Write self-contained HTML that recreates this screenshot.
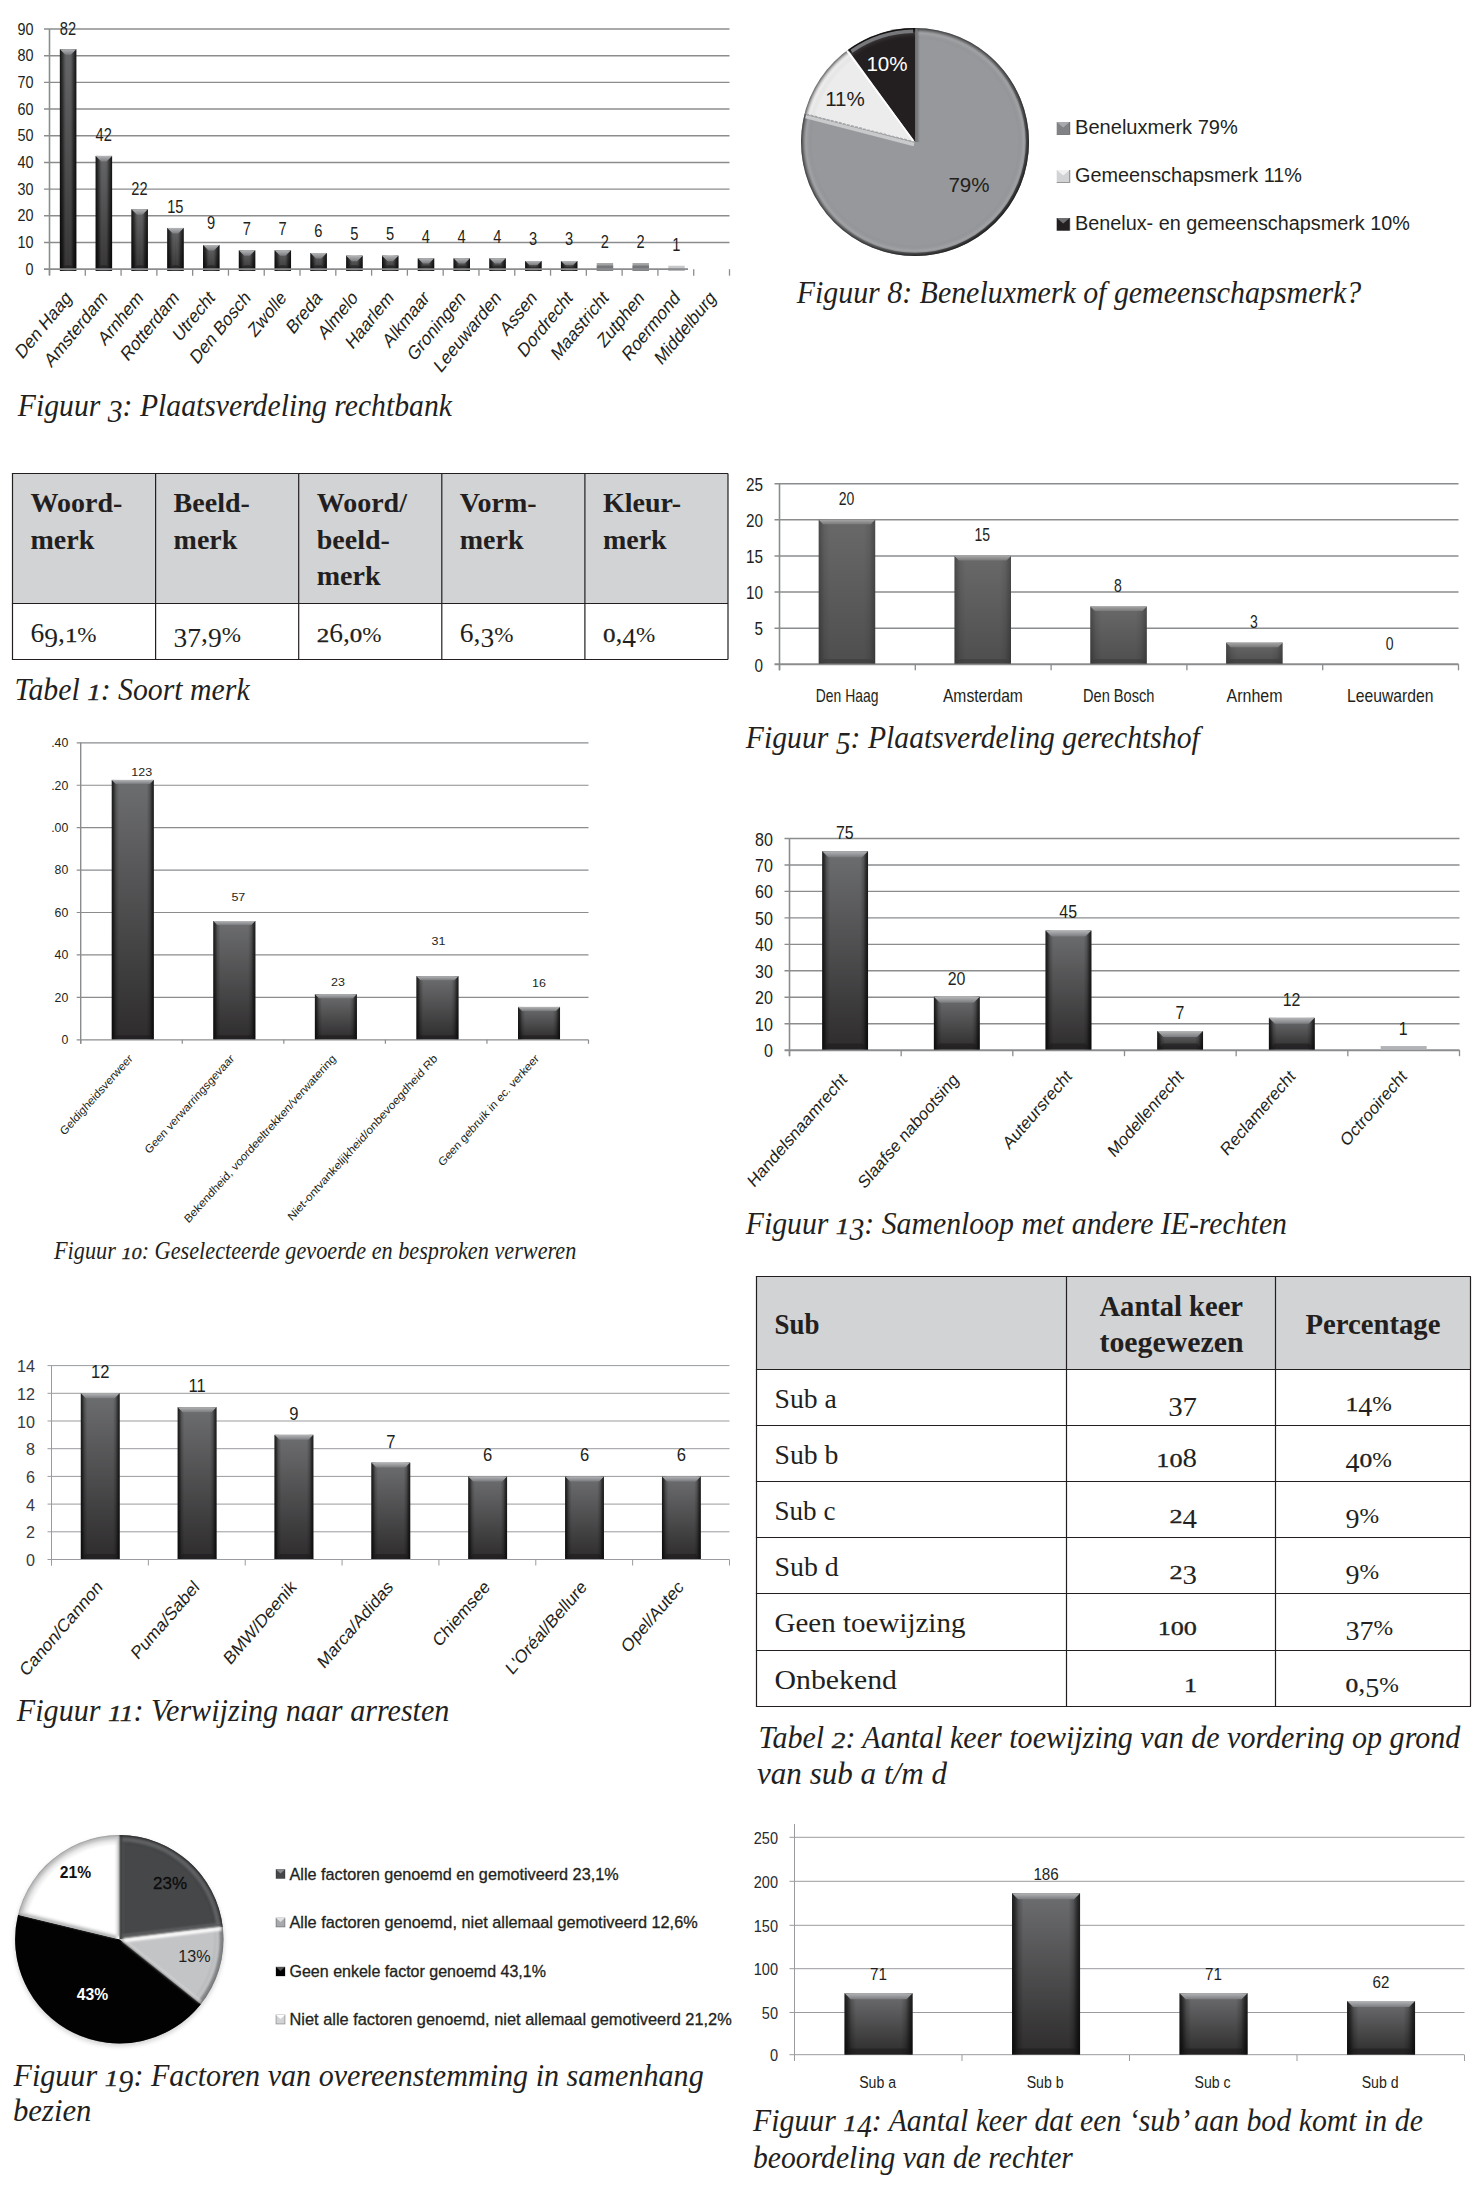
<!DOCTYPE html>
<html lang="nl"><head><meta charset="utf-8"><title>Figuren en tabellen</title>
<style>html,body{margin:0;padding:0;background:#fff}svg{display:block}text{white-space:pre}</style></head>
<body><svg width="1484" height="2204" viewBox="0 0 1484 2204">
<defs>
<linearGradient id="tbA" x1="0" y1="0" x2="0" y2="1"><stop offset="0" stop-color="#b4b6b8"/><stop offset="1" stop-color="#7b7c7f"/></linearGradient>
<linearGradient id="tbB" x1="0" y1="0" x2="0" y2="1"><stop offset="0" stop-color="#a6a6a6"/><stop offset="1" stop-color="#7a7a7a"/></linearGradient>
<linearGradient id="vgA" x1="0" y1="0" x2="0" y2="1"><stop offset="0" stop-color="#6d6e70"/><stop offset="1" stop-color="#2e2c2d"/></linearGradient>
<linearGradient id="vgB" x1="0" y1="0" x2="0" y2="1"><stop offset="0" stop-color="#696969"/><stop offset="1" stop-color="#4e4e4e"/></linearGradient>
<linearGradient id="vgC" x1="0" y1="0" x2="0" y2="1"><stop offset="0" stop-color="#5a5b5d"/><stop offset="1" stop-color="#262425"/></linearGradient>
<linearGradient id="hgA" x1="0" y1="0" x2="1" y2="0"><stop offset="0" stop-color="#000" stop-opacity=".75"/><stop offset=".04" stop-color="#000" stop-opacity=".6"/><stop offset=".1" stop-color="#000" stop-opacity=".2"/><stop offset=".17" stop-color="#000" stop-opacity="0"/><stop offset=".83" stop-color="#000" stop-opacity="0"/><stop offset=".9" stop-color="#000" stop-opacity=".2"/><stop offset=".96" stop-color="#000" stop-opacity=".6"/><stop offset="1" stop-color="#000" stop-opacity=".75"/></linearGradient>
<linearGradient id="hgB" x1="0" y1="0" x2="1" y2="0"><stop offset="0" stop-color="#000" stop-opacity=".3"/><stop offset=".1" stop-color="#000" stop-opacity=".08"/><stop offset=".2" stop-color="#000" stop-opacity="0"/><stop offset=".8" stop-color="#000" stop-opacity="0"/><stop offset=".9" stop-color="#000" stop-opacity=".08"/><stop offset="1" stop-color="#000" stop-opacity=".3"/></linearGradient>
<linearGradient id="hgC" x1="0" y1="0" x2="1" y2="0"><stop offset="0" stop-color="#000" stop-opacity=".8"/><stop offset=".2" stop-color="#000" stop-opacity=".3"/><stop offset=".5" stop-color="#fff" stop-opacity=".06"/><stop offset=".8" stop-color="#000" stop-opacity=".3"/><stop offset="1" stop-color="#000" stop-opacity=".8"/></linearGradient>

<radialGradient id="rim8" cx="915.0" cy="142.0" r="114.0" gradientUnits="userSpaceOnUse"><stop offset="0" stop-color="#000" stop-opacity="0"/><stop offset=".9" stop-color="#000" stop-opacity="0"/><stop offset=".955" stop-color="#fff" stop-opacity=".10"/><stop offset=".975" stop-color="#000" stop-opacity=".15"/><stop offset="1" stop-color="#000" stop-opacity=".6"/></radialGradient>
<linearGradient id="dir8" gradientUnits="userSpaceOnUse" x1="835.2" y1="62.2" x2="994.8" y2="221.8"><stop offset="0" stop-color="#000" stop-opacity="0"/><stop offset=".45" stop-color="#000" stop-opacity=".05"/><stop offset="1" stop-color="#000" stop-opacity=".55"/></linearGradient>
<linearGradient id="vsh8" gradientUnits="userSpaceOnUse" x1="915.0" y1="0" x2="920.0" y2="0"><stop offset="0" stop-color="#000" stop-opacity=".35"/><stop offset="1" stop-color="#000" stop-opacity="0"/></linearGradient>
<radialGradient id="rim19" cx="119.3" cy="1939.3" r="104.2" gradientUnits="userSpaceOnUse"><stop offset="0" stop-color="#000" stop-opacity="0"/><stop offset=".9" stop-color="#000" stop-opacity="0"/><stop offset=".96" stop-color="#000" stop-opacity=".12"/><stop offset="1" stop-color="#000" stop-opacity=".45"/></radialGradient>
<filter id="sh19" x="-10%" y="-10%" width="120%" height="120%"><feGaussianBlur stdDeviation="2.2"/></filter>
<filter id="blur19" x="-10%" y="-10%" width="120%" height="120%"><feGaussianBlur stdDeviation="0.9"/></filter></defs>
<rect width="1484" height="2204" fill="#fff"/>
<text transform="translate(33.50,274.80) scale(0.8670,1)" font-size="16.60" text-anchor="end" font-family="'Liberation Sans', sans-serif" fill="#231f20">0</text>
<line x1="44.00" y1="242.51" x2="729.50" y2="242.51" stroke="#8a8c8e" stroke-width="1.40"/>
<text transform="translate(33.50,248.11) scale(0.8670,1)" font-size="16.60" text-anchor="end" font-family="'Liberation Sans', sans-serif" fill="#231f20">10</text>
<line x1="44.00" y1="215.82" x2="729.50" y2="215.82" stroke="#8a8c8e" stroke-width="1.40"/>
<text transform="translate(33.50,221.42) scale(0.8670,1)" font-size="16.60" text-anchor="end" font-family="'Liberation Sans', sans-serif" fill="#231f20">20</text>
<line x1="44.00" y1="189.13" x2="729.50" y2="189.13" stroke="#8a8c8e" stroke-width="1.40"/>
<text transform="translate(33.50,194.73) scale(0.8670,1)" font-size="16.60" text-anchor="end" font-family="'Liberation Sans', sans-serif" fill="#231f20">30</text>
<line x1="44.00" y1="162.44" x2="729.50" y2="162.44" stroke="#8a8c8e" stroke-width="1.40"/>
<text transform="translate(33.50,168.04) scale(0.8670,1)" font-size="16.60" text-anchor="end" font-family="'Liberation Sans', sans-serif" fill="#231f20">40</text>
<line x1="44.00" y1="135.76" x2="729.50" y2="135.76" stroke="#8a8c8e" stroke-width="1.40"/>
<text transform="translate(33.50,141.36) scale(0.8670,1)" font-size="16.60" text-anchor="end" font-family="'Liberation Sans', sans-serif" fill="#231f20">50</text>
<line x1="44.00" y1="109.07" x2="729.50" y2="109.07" stroke="#8a8c8e" stroke-width="1.40"/>
<text transform="translate(33.50,114.67) scale(0.8670,1)" font-size="16.60" text-anchor="end" font-family="'Liberation Sans', sans-serif" fill="#231f20">60</text>
<line x1="44.00" y1="82.38" x2="729.50" y2="82.38" stroke="#8a8c8e" stroke-width="1.40"/>
<text transform="translate(33.50,87.98) scale(0.8670,1)" font-size="16.60" text-anchor="end" font-family="'Liberation Sans', sans-serif" fill="#231f20">70</text>
<line x1="44.00" y1="55.69" x2="729.50" y2="55.69" stroke="#8a8c8e" stroke-width="1.40"/>
<text transform="translate(33.50,61.29) scale(0.8670,1)" font-size="16.60" text-anchor="end" font-family="'Liberation Sans', sans-serif" fill="#231f20">80</text>
<line x1="44.00" y1="29.00" x2="729.50" y2="29.00" stroke="#8a8c8e" stroke-width="1.40"/>
<text transform="translate(33.50,34.60) scale(0.8670,1)" font-size="16.60" text-anchor="end" font-family="'Liberation Sans', sans-serif" fill="#231f20">90</text>
<line x1="49.50" y1="29.00" x2="49.50" y2="275.20" stroke="#8a8c8e" stroke-width="1.60"/>
<line x1="49.50" y1="269.20" x2="49.50" y2="275.70" stroke="#8a8c8e" stroke-width="1.30"/>
<line x1="85.29" y1="269.20" x2="85.29" y2="275.70" stroke="#8a8c8e" stroke-width="1.30"/>
<line x1="121.08" y1="269.20" x2="121.08" y2="275.70" stroke="#8a8c8e" stroke-width="1.30"/>
<line x1="156.87" y1="269.20" x2="156.87" y2="275.70" stroke="#8a8c8e" stroke-width="1.30"/>
<line x1="192.66" y1="269.20" x2="192.66" y2="275.70" stroke="#8a8c8e" stroke-width="1.30"/>
<line x1="228.45" y1="269.20" x2="228.45" y2="275.70" stroke="#8a8c8e" stroke-width="1.30"/>
<line x1="264.24" y1="269.20" x2="264.24" y2="275.70" stroke="#8a8c8e" stroke-width="1.30"/>
<line x1="300.03" y1="269.20" x2="300.03" y2="275.70" stroke="#8a8c8e" stroke-width="1.30"/>
<line x1="335.82" y1="269.20" x2="335.82" y2="275.70" stroke="#8a8c8e" stroke-width="1.30"/>
<line x1="371.61" y1="269.20" x2="371.61" y2="275.70" stroke="#8a8c8e" stroke-width="1.30"/>
<line x1="407.39" y1="269.20" x2="407.39" y2="275.70" stroke="#8a8c8e" stroke-width="1.30"/>
<line x1="443.18" y1="269.20" x2="443.18" y2="275.70" stroke="#8a8c8e" stroke-width="1.30"/>
<line x1="478.97" y1="269.20" x2="478.97" y2="275.70" stroke="#8a8c8e" stroke-width="1.30"/>
<line x1="514.76" y1="269.20" x2="514.76" y2="275.70" stroke="#8a8c8e" stroke-width="1.30"/>
<line x1="550.55" y1="269.20" x2="550.55" y2="275.70" stroke="#8a8c8e" stroke-width="1.30"/>
<line x1="586.34" y1="269.20" x2="586.34" y2="275.70" stroke="#8a8c8e" stroke-width="1.30"/>
<line x1="622.13" y1="269.20" x2="622.13" y2="275.70" stroke="#8a8c8e" stroke-width="1.30"/>
<line x1="657.92" y1="269.20" x2="657.92" y2="275.70" stroke="#8a8c8e" stroke-width="1.30"/>
<line x1="693.71" y1="269.20" x2="693.71" y2="275.70" stroke="#8a8c8e" stroke-width="1.30"/>
<line x1="729.50" y1="269.20" x2="729.50" y2="275.70" stroke="#8a8c8e" stroke-width="1.30"/>
<rect x="59.89" y="49.15" width="16.40" height="221.65" fill="url(#vgC)"/>
<rect x="59.89" y="49.15" width="16.40" height="221.65" fill="url(#hgC)"/>
<polygon points="59.89,49.15 76.29,49.15 70.79,54.65 65.39,54.65" fill="url(#tbA)"/>
<polygon points="59.89,270.80 76.29,270.80 70.79,265.30 65.39,265.30" fill="#1c1a1b" fill-opacity="0.55"/>
<text transform="translate(67.89,34.55) scale(0.7700,1)" font-size="19.00" text-anchor="middle" font-family="'Liberation Sans', sans-serif" fill="#231f20">82</text>
<text transform="translate(72.39,299.00) scale(0.820,1) rotate(-45.00) scale(0.9600,1)" font-size="20.00" text-anchor="end" font-family="'Liberation Sans', sans-serif" fill="#231f20">Den Haag</text>
<rect x="95.68" y="155.91" width="16.40" height="114.89" fill="url(#vgC)"/>
<rect x="95.68" y="155.91" width="16.40" height="114.89" fill="url(#hgC)"/>
<polygon points="95.68,155.91 112.08,155.91 106.58,161.41 101.18,161.41" fill="url(#tbA)"/>
<polygon points="95.68,270.80 112.08,270.80 106.58,265.30 101.18,265.30" fill="#1c1a1b" fill-opacity="0.55"/>
<text transform="translate(103.68,141.31) scale(0.7700,1)" font-size="19.00" text-anchor="middle" font-family="'Liberation Sans', sans-serif" fill="#231f20">42</text>
<text transform="translate(108.18,299.00) scale(0.820,1) rotate(-45.00) scale(0.9600,1)" font-size="20.00" text-anchor="end" font-family="'Liberation Sans', sans-serif" fill="#231f20">Amsterdam</text>
<rect x="131.47" y="209.28" width="16.40" height="61.52" fill="url(#vgC)"/>
<rect x="131.47" y="209.28" width="16.40" height="61.52" fill="url(#hgC)"/>
<polygon points="131.47,209.28 147.87,209.28 142.37,214.78 136.97,214.78" fill="url(#tbA)"/>
<polygon points="131.47,270.80 147.87,270.80 142.37,265.30 136.97,265.30" fill="#1c1a1b" fill-opacity="0.55"/>
<text transform="translate(139.47,194.68) scale(0.7700,1)" font-size="19.00" text-anchor="middle" font-family="'Liberation Sans', sans-serif" fill="#231f20">22</text>
<text transform="translate(143.97,299.00) scale(0.820,1) rotate(-45.00) scale(0.9600,1)" font-size="20.00" text-anchor="end" font-family="'Liberation Sans', sans-serif" fill="#231f20">Arnhem</text>
<rect x="167.26" y="227.97" width="16.40" height="42.83" fill="url(#vgC)"/>
<rect x="167.26" y="227.97" width="16.40" height="42.83" fill="url(#hgC)"/>
<polygon points="167.26,227.97 183.66,227.97 178.16,233.47 172.76,233.47" fill="url(#tbA)"/>
<polygon points="167.26,270.80 183.66,270.80 178.16,265.30 172.76,265.30" fill="#1c1a1b" fill-opacity="0.55"/>
<text transform="translate(175.26,213.37) scale(0.7700,1)" font-size="19.00" text-anchor="middle" font-family="'Liberation Sans', sans-serif" fill="#231f20">15</text>
<text transform="translate(179.76,299.00) scale(0.820,1) rotate(-45.00) scale(0.9600,1)" font-size="20.00" text-anchor="end" font-family="'Liberation Sans', sans-serif" fill="#231f20">Rotterdam</text>
<rect x="203.05" y="244.98" width="16.40" height="25.82" fill="url(#vgC)"/>
<rect x="203.05" y="244.98" width="16.40" height="25.82" fill="url(#hgC)"/>
<polygon points="203.05,244.98 219.45,244.98 213.95,250.48 208.55,250.48" fill="url(#tbA)"/>
<polygon points="203.05,270.80 219.45,270.80 213.95,265.30 208.55,265.30" fill="#1c1a1b" fill-opacity="0.55"/>
<text transform="translate(211.05,229.38) scale(0.7700,1)" font-size="19.00" text-anchor="middle" font-family="'Liberation Sans', sans-serif" fill="#231f20">9</text>
<text transform="translate(215.55,299.00) scale(0.820,1) rotate(-45.00) scale(0.9600,1)" font-size="20.00" text-anchor="end" font-family="'Liberation Sans', sans-serif" fill="#231f20">Utrecht</text>
<rect x="238.84" y="250.32" width="16.40" height="20.48" fill="url(#vgC)"/>
<rect x="238.84" y="250.32" width="16.40" height="20.48" fill="url(#hgC)"/>
<polygon points="238.84,250.32 255.24,250.32 249.74,255.82 244.34,255.82" fill="url(#tbA)"/>
<polygon points="238.84,270.80 255.24,270.80 249.74,265.30 244.34,265.30" fill="#1c1a1b" fill-opacity="0.55"/>
<text transform="translate(246.84,234.72) scale(0.7700,1)" font-size="19.00" text-anchor="middle" font-family="'Liberation Sans', sans-serif" fill="#231f20">7</text>
<text transform="translate(251.34,299.00) scale(0.820,1) rotate(-45.00) scale(0.9600,1)" font-size="20.00" text-anchor="end" font-family="'Liberation Sans', sans-serif" fill="#231f20">Den Bosch</text>
<rect x="274.63" y="250.32" width="16.40" height="20.48" fill="url(#vgC)"/>
<rect x="274.63" y="250.32" width="16.40" height="20.48" fill="url(#hgC)"/>
<polygon points="274.63,250.32 291.03,250.32 285.53,255.82 280.13,255.82" fill="url(#tbA)"/>
<polygon points="274.63,270.80 291.03,270.80 285.53,265.30 280.13,265.30" fill="#1c1a1b" fill-opacity="0.55"/>
<text transform="translate(282.63,234.72) scale(0.7700,1)" font-size="19.00" text-anchor="middle" font-family="'Liberation Sans', sans-serif" fill="#231f20">7</text>
<text transform="translate(287.13,299.00) scale(0.820,1) rotate(-45.00) scale(0.9600,1)" font-size="20.00" text-anchor="end" font-family="'Liberation Sans', sans-serif" fill="#231f20">Zwolle</text>
<rect x="310.42" y="252.99" width="16.40" height="17.81" fill="url(#vgC)"/>
<rect x="310.42" y="252.99" width="16.40" height="17.81" fill="url(#hgC)"/>
<polygon points="310.42,252.99 326.82,252.99 321.32,258.49 315.92,258.49" fill="url(#tbA)"/>
<polygon points="310.42,270.80 326.82,270.80 321.32,265.30 315.92,265.30" fill="#1c1a1b" fill-opacity="0.55"/>
<text transform="translate(318.42,237.39) scale(0.7700,1)" font-size="19.00" text-anchor="middle" font-family="'Liberation Sans', sans-serif" fill="#231f20">6</text>
<text transform="translate(322.92,299.00) scale(0.820,1) rotate(-45.00) scale(0.9600,1)" font-size="20.00" text-anchor="end" font-family="'Liberation Sans', sans-serif" fill="#231f20">Breda</text>
<rect x="346.21" y="255.66" width="16.40" height="15.14" fill="url(#vgC)"/>
<rect x="346.21" y="255.66" width="16.40" height="15.14" fill="url(#hgC)"/>
<polygon points="346.21,255.66 362.61,255.66 357.11,261.16 351.71,261.16" fill="url(#tbA)"/>
<polygon points="346.21,270.80 362.61,270.80 357.11,265.30 351.71,265.30" fill="#1c1a1b" fill-opacity="0.55"/>
<text transform="translate(354.21,240.06) scale(0.7700,1)" font-size="19.00" text-anchor="middle" font-family="'Liberation Sans', sans-serif" fill="#231f20">5</text>
<text transform="translate(358.71,299.00) scale(0.820,1) rotate(-45.00) scale(0.9600,1)" font-size="20.00" text-anchor="end" font-family="'Liberation Sans', sans-serif" fill="#231f20">Almelo</text>
<rect x="382.00" y="255.66" width="16.40" height="15.14" fill="url(#vgC)"/>
<rect x="382.00" y="255.66" width="16.40" height="15.14" fill="url(#hgC)"/>
<polygon points="382.00,255.66 398.40,255.66 392.90,261.16 387.50,261.16" fill="url(#tbA)"/>
<polygon points="382.00,270.80 398.40,270.80 392.90,265.30 387.50,265.30" fill="#1c1a1b" fill-opacity="0.55"/>
<text transform="translate(390.00,240.06) scale(0.7700,1)" font-size="19.00" text-anchor="middle" font-family="'Liberation Sans', sans-serif" fill="#231f20">5</text>
<text transform="translate(394.50,299.00) scale(0.820,1) rotate(-45.00) scale(0.9600,1)" font-size="20.00" text-anchor="end" font-family="'Liberation Sans', sans-serif" fill="#231f20">Haarlem</text>
<rect x="417.79" y="258.32" width="16.40" height="12.48" fill="url(#vgC)"/>
<rect x="417.79" y="258.32" width="16.40" height="12.48" fill="url(#hgC)"/>
<polygon points="417.79,258.32 434.19,258.32 428.95,263.56 423.03,263.56" fill="url(#tbA)"/>
<polygon points="417.79,270.80 434.19,270.80 428.95,265.56 423.03,265.56" fill="#1c1a1b" fill-opacity="0.55"/>
<text transform="translate(425.79,242.72) scale(0.7700,1)" font-size="19.00" text-anchor="middle" font-family="'Liberation Sans', sans-serif" fill="#231f20">4</text>
<text transform="translate(430.29,299.00) scale(0.820,1) rotate(-45.00) scale(0.9600,1)" font-size="20.00" text-anchor="end" font-family="'Liberation Sans', sans-serif" fill="#231f20">Alkmaar</text>
<rect x="453.58" y="258.32" width="16.40" height="12.48" fill="url(#vgC)"/>
<rect x="453.58" y="258.32" width="16.40" height="12.48" fill="url(#hgC)"/>
<polygon points="453.58,258.32 469.98,258.32 464.74,263.56 458.82,263.56" fill="url(#tbA)"/>
<polygon points="453.58,270.80 469.98,270.80 464.74,265.56 458.82,265.56" fill="#1c1a1b" fill-opacity="0.55"/>
<text transform="translate(461.58,242.72) scale(0.7700,1)" font-size="19.00" text-anchor="middle" font-family="'Liberation Sans', sans-serif" fill="#231f20">4</text>
<text transform="translate(466.08,299.00) scale(0.820,1) rotate(-45.00) scale(0.9600,1)" font-size="20.00" text-anchor="end" font-family="'Liberation Sans', sans-serif" fill="#231f20">Groningen</text>
<rect x="489.37" y="258.32" width="16.40" height="12.48" fill="url(#vgC)"/>
<rect x="489.37" y="258.32" width="16.40" height="12.48" fill="url(#hgC)"/>
<polygon points="489.37,258.32 505.77,258.32 500.53,263.56 494.61,263.56" fill="url(#tbA)"/>
<polygon points="489.37,270.80 505.77,270.80 500.53,265.56 494.61,265.56" fill="#1c1a1b" fill-opacity="0.55"/>
<text transform="translate(497.37,242.72) scale(0.7700,1)" font-size="19.00" text-anchor="middle" font-family="'Liberation Sans', sans-serif" fill="#231f20">4</text>
<text transform="translate(501.87,299.00) scale(0.820,1) rotate(-45.00) scale(0.9600,1)" font-size="20.00" text-anchor="end" font-family="'Liberation Sans', sans-serif" fill="#231f20">Leeuwarden</text>
<rect x="525.16" y="260.99" width="16.40" height="9.81" fill="url(#vgC)"/>
<rect x="525.16" y="260.99" width="16.40" height="9.81" fill="url(#hgC)"/>
<polygon points="525.16,260.99 541.56,260.99 537.44,265.11 529.28,265.11" fill="url(#tbA)"/>
<polygon points="525.16,270.80 541.56,270.80 537.44,266.68 529.28,266.68" fill="#1c1a1b" fill-opacity="0.55"/>
<text transform="translate(533.16,245.39) scale(0.7700,1)" font-size="19.00" text-anchor="middle" font-family="'Liberation Sans', sans-serif" fill="#231f20">3</text>
<text transform="translate(537.66,299.00) scale(0.820,1) rotate(-45.00) scale(0.9600,1)" font-size="20.00" text-anchor="end" font-family="'Liberation Sans', sans-serif" fill="#231f20">Assen</text>
<rect x="560.95" y="260.99" width="16.40" height="9.81" fill="url(#vgC)"/>
<rect x="560.95" y="260.99" width="16.40" height="9.81" fill="url(#hgC)"/>
<polygon points="560.95,260.99 577.35,260.99 573.23,265.11 565.07,265.11" fill="url(#tbA)"/>
<polygon points="560.95,270.80 577.35,270.80 573.23,266.68 565.07,266.68" fill="#1c1a1b" fill-opacity="0.55"/>
<text transform="translate(568.95,245.39) scale(0.7700,1)" font-size="19.00" text-anchor="middle" font-family="'Liberation Sans', sans-serif" fill="#231f20">3</text>
<text transform="translate(573.45,299.00) scale(0.820,1) rotate(-45.00) scale(0.9600,1)" font-size="20.00" text-anchor="end" font-family="'Liberation Sans', sans-serif" fill="#231f20">Dordrecht</text>
<rect x="596.74" y="263.06" width="16.40" height="7.74" fill="#a1a3a5"/>
<rect x="596.74" y="265.46" width="16.40" height="5.34" fill="#77787b"/>
<text transform="translate(604.74,248.06) scale(0.7700,1)" font-size="19.00" text-anchor="middle" font-family="'Liberation Sans', sans-serif" fill="#231f20">2</text>
<text transform="translate(609.24,299.00) scale(0.820,1) rotate(-45.00) scale(0.9600,1)" font-size="20.00" text-anchor="end" font-family="'Liberation Sans', sans-serif" fill="#231f20">Maastricht</text>
<rect x="632.53" y="263.06" width="16.40" height="7.74" fill="#a1a3a5"/>
<rect x="632.53" y="265.46" width="16.40" height="5.34" fill="#77787b"/>
<text transform="translate(640.53,248.06) scale(0.7700,1)" font-size="19.00" text-anchor="middle" font-family="'Liberation Sans', sans-serif" fill="#231f20">2</text>
<text transform="translate(645.03,299.00) scale(0.820,1) rotate(-45.00) scale(0.9600,1)" font-size="20.00" text-anchor="end" font-family="'Liberation Sans', sans-serif" fill="#231f20">Zutphen</text>
<rect x="668.32" y="265.73" width="16.40" height="5.07" fill="#c7c8ca"/>
<rect x="668.32" y="268.13" width="16.40" height="2.67" fill="#b1b3b6"/>
<text transform="translate(676.32,250.73) scale(0.7700,1)" font-size="19.00" text-anchor="middle" font-family="'Liberation Sans', sans-serif" fill="#231f20">1</text>
<text transform="translate(680.82,299.00) scale(0.820,1) rotate(-45.00) scale(0.9600,1)" font-size="20.00" text-anchor="end" font-family="'Liberation Sans', sans-serif" fill="#231f20">Roermond</text>
<text transform="translate(716.61,299.00) scale(0.820,1) rotate(-45.00) scale(0.9600,1)" font-size="20.00" text-anchor="end" font-family="'Liberation Sans', sans-serif" fill="#231f20">Middelburg</text>
<line x1="44.00" y1="269.20" x2="688.00" y2="269.20" stroke="#8a8c8e" stroke-width="1.70"/>
<g transform="translate(17.80,415.60) scale(0.9140,1)" font-family="'Liberation Serif', serif" font-style="italic" fill="#231f20"><text transform="translate(0.00,0.00)" font-size="32.50">Figuur </text><text transform="translate(98.40,6.17)" font-size="32.50">3</text><text transform="translate(114.65,0.00)" font-size="32.50">: Plaatsverdeling rechtbank</text></g>
<path d="M915.00,142.00 L915.00,28.00 A114.00,114.00 0 1 1 804.58,113.65 Z" fill="#97989b"/>
<path d="M915.00,142.00 L804.58,113.65 A114.00,114.00 0 0 1 847.99,49.77 Z" fill="#ececed"/>
<path d="M915.00,142.00 L847.99,49.77 A114.00,114.00 0 0 1 915.00,28.00 Z" fill="#231f20"/>
<circle cx="915.0" cy="142.0" r="114.0" fill="url(#rim8)"/>
<circle cx="915.0" cy="142.0" r="112.4" fill="none" stroke="url(#dir8)" stroke-width="3.2"/>
<rect x="915.0" y="29.0" width="5" height="113.0" fill="url(#vsh8)"/>
<path d="M851.45,51.24 A110.80,110.80 0 0 1 913.07,31.22" fill="none" stroke="#77787b" stroke-width="3.4"/>
<line x1="914.00" y1="144.50" x2="805.58" y2="116.65" stroke="#c9cacc" stroke-width="3.5"/>
<line x1="915.00" y1="142.00" x2="804.58" y2="113.65" stroke="#a4a5a7" stroke-width="1.2" stroke-dasharray="3,1.2"/>
<line x1="916.50" y1="142.00" x2="916.50" y2="29.00" stroke="#77787b" stroke-width="2"/>
<line x1="913.50" y1="141.00" x2="846.99" y2="50.77" stroke="#fff" stroke-width="1.6"/>
<text transform="translate(969.00,191.50) scale(0.9800,1)" font-size="21.00" text-anchor="middle" font-family="'Liberation Sans', sans-serif" fill="#231f20">79%</text>
<text transform="translate(845.00,106.00) scale(0.9800,1)" font-size="21.00" text-anchor="middle" font-family="'Liberation Sans', sans-serif" fill="#231f20">11%</text>
<text transform="translate(887.00,71.00) scale(0.9800,1)" font-size="21.00" text-anchor="middle" font-family="'Liberation Sans', sans-serif" fill="#fff">10%</text>
<rect x="1056.70" y="122.00" width="13.00" height="12.50" fill="#808285"/>
<polygon points="1056.7,122.0 1069.7,122.0 1063.2,127.5" fill="#a7a9ac"/>
<path d="M1056.7,134.5 h13 v-12.5" fill="none" stroke="#000" stroke-opacity=".35" stroke-width="1.2"/>
<text transform="translate(1075.00,133.50) scale(1.0300,1)" font-size="19.50" text-anchor="start" font-family="'Liberation Sans', sans-serif" fill="#231f20">Beneluxmerk 79%</text>
<rect x="1056.70" y="170.00" width="13.00" height="12.50" fill="#d1d3d4"/>
<polygon points="1056.7,170.0 1069.7,170.0 1063.2,175.5" fill="#f1f1f2"/>
<path d="M1056.7,182.5 h13 v-12.5" fill="none" stroke="#000" stroke-opacity=".35" stroke-width="1.2"/>
<text transform="translate(1075.00,181.50) scale(1.0184,1)" font-size="19.50" text-anchor="start" font-family="'Liberation Sans', sans-serif" fill="#231f20">Gemeenschapsmerk 11%</text>
<rect x="1056.70" y="218.00" width="13.00" height="12.50" fill="#231f20"/>
<polygon points="1056.7,218.0 1069.7,218.0 1063.2,223.5" fill="#6d6e70"/>
<path d="M1056.7,230.5 h13 v-12.5" fill="none" stroke="#000" stroke-opacity=".35" stroke-width="1.2"/>
<text transform="translate(1075.00,229.50) scale(1.0166,1)" font-size="19.50" text-anchor="start" font-family="'Liberation Sans', sans-serif" fill="#231f20">Benelux- en gemeenschapsmerk 10%</text>
<g transform="translate(796.70,303.40) scale(0.9205,1)" font-family="'Liberation Serif', serif" font-style="italic" fill="#231f20"><text transform="translate(0.00,0.00)" font-size="32.50">Figuur 8: Beneluxmerk of gemeenschapsmerk?</text></g>
<rect x="12.50" y="473.50" width="715.50" height="130.00" fill="#d1d3d4"/>
<line x1="12.50" y1="473.50" x2="12.50" y2="659.50" stroke="#231f20" stroke-width="1.20"/>
<line x1="155.60" y1="473.50" x2="155.60" y2="659.50" stroke="#231f20" stroke-width="1.20"/>
<line x1="298.70" y1="473.50" x2="298.70" y2="659.50" stroke="#231f20" stroke-width="1.20"/>
<line x1="441.80" y1="473.50" x2="441.80" y2="659.50" stroke="#231f20" stroke-width="1.20"/>
<line x1="584.90" y1="473.50" x2="584.90" y2="659.50" stroke="#231f20" stroke-width="1.20"/>
<line x1="728.00" y1="473.50" x2="728.00" y2="659.50" stroke="#231f20" stroke-width="1.20"/>
<line x1="11.90" y1="473.50" x2="728.00" y2="473.50" stroke="#231f20" stroke-width="1.20"/>
<line x1="11.90" y1="603.50" x2="728.00" y2="603.50" stroke="#231f20" stroke-width="1.20"/>
<line x1="11.90" y1="659.50" x2="728.00" y2="659.50" stroke="#231f20" stroke-width="1.20"/>
<text transform="translate(30.50,512.00) scale(0.9900,1)" font-size="28.30" text-anchor="start" font-family="'Liberation Serif', serif" font-weight="bold" fill="#231f20">Woord-</text>
<text transform="translate(30.50,548.50) scale(0.9900,1)" font-size="28.30" text-anchor="start" font-family="'Liberation Serif', serif" font-weight="bold" fill="#231f20">merk</text>
<g transform="translate(30.50,641.50) scale(1.0000,1)" font-family="'Liberation Serif', serif" fill="#231f20"><text transform="translate(0.00,0.00)" font-size="27.50">6</text><text transform="translate(13.75,5.22)" font-size="27.50">9</text><text transform="translate(27.50,0.00)" font-size="27.50">,</text><text transform="translate(34.38,0.00) scale(1.280,1)" font-size="19.52" stroke="#231f20" stroke-width="0.33">1</text><text transform="translate(46.87,0.00) scale(1.050,1)" font-size="22.00">%</text></g>
<text transform="translate(173.60,512.00) scale(0.9900,1)" font-size="28.30" text-anchor="start" font-family="'Liberation Serif', serif" font-weight="bold" fill="#231f20">Beeld-</text>
<text transform="translate(173.60,548.50) scale(0.9900,1)" font-size="28.30" text-anchor="start" font-family="'Liberation Serif', serif" font-weight="bold" fill="#231f20">merk</text>
<g transform="translate(173.60,641.50) scale(1.0000,1)" font-family="'Liberation Serif', serif" fill="#231f20"><text transform="translate(0.00,5.22)" font-size="27.50">37</text><text transform="translate(27.50,0.00)" font-size="27.50">,</text><text transform="translate(34.38,5.22)" font-size="27.50">9</text><text transform="translate(48.12,0.00) scale(1.050,1)" font-size="22.00">%</text></g>
<text transform="translate(316.70,512.00) scale(0.9900,1)" font-size="28.30" text-anchor="start" font-family="'Liberation Serif', serif" font-weight="bold" fill="#231f20">Woord/</text>
<text transform="translate(316.70,548.50) scale(0.9900,1)" font-size="28.30" text-anchor="start" font-family="'Liberation Serif', serif" font-weight="bold" fill="#231f20">beeld-</text>
<text transform="translate(316.70,585.00) scale(0.9900,1)" font-size="28.30" text-anchor="start" font-family="'Liberation Serif', serif" font-weight="bold" fill="#231f20">merk</text>
<g transform="translate(316.70,641.50) scale(1.0000,1)" font-family="'Liberation Serif', serif" fill="#231f20"><text transform="translate(0.00,0.00) scale(1.280,1)" font-size="19.52" stroke="#231f20" stroke-width="0.33">2</text><text transform="translate(12.50,0.00)" font-size="27.50">6,</text><text transform="translate(33.12,0.00) scale(1.280,1)" font-size="19.52" stroke="#231f20" stroke-width="0.33">0</text><text transform="translate(45.62,0.00) scale(1.050,1)" font-size="22.00">%</text></g>
<text transform="translate(459.80,512.00) scale(0.9900,1)" font-size="28.30" text-anchor="start" font-family="'Liberation Serif', serif" font-weight="bold" fill="#231f20">Vorm-</text>
<text transform="translate(459.80,548.50) scale(0.9900,1)" font-size="28.30" text-anchor="start" font-family="'Liberation Serif', serif" font-weight="bold" fill="#231f20">merk</text>
<g transform="translate(459.80,641.50) scale(1.0000,1)" font-family="'Liberation Serif', serif" fill="#231f20"><text transform="translate(0.00,0.00)" font-size="27.50">6,</text><text transform="translate(20.62,5.22)" font-size="27.50">3</text><text transform="translate(34.38,0.00) scale(1.050,1)" font-size="22.00">%</text></g>
<text transform="translate(602.90,512.00) scale(0.9900,1)" font-size="28.30" text-anchor="start" font-family="'Liberation Serif', serif" font-weight="bold" fill="#231f20">Kleur-</text>
<text transform="translate(602.90,548.50) scale(0.9900,1)" font-size="28.30" text-anchor="start" font-family="'Liberation Serif', serif" font-weight="bold" fill="#231f20">merk</text>
<g transform="translate(602.90,641.50) scale(1.0000,1)" font-family="'Liberation Serif', serif" fill="#231f20"><text transform="translate(0.00,0.00) scale(1.280,1)" font-size="19.52" stroke="#231f20" stroke-width="0.33">0</text><text transform="translate(12.50,0.00)" font-size="27.50">,</text><text transform="translate(19.37,5.22)" font-size="27.50">4</text><text transform="translate(33.12,0.00) scale(1.050,1)" font-size="22.00">%</text></g>
<g transform="translate(14.60,699.80) scale(0.9169,1)" font-family="'Liberation Serif', serif" font-style="italic" fill="#231f20"><text transform="translate(0.00,0.00)" font-size="32.50">Tabel </text><text transform="translate(79.17,0.00) scale(1.280,1)" font-size="23.07" stroke="#231f20" stroke-width="0.39">1</text><text transform="translate(93.94,0.00)" font-size="32.50">: Soort merk</text></g>
<line x1="774.50" y1="664.30" x2="1458.50" y2="664.30" stroke="#8a8c8e" stroke-width="1.90"/>
<text transform="translate(763.00,671.50) scale(0.8500,1)" font-size="18.00" text-anchor="end" font-family="'Liberation Sans', sans-serif" fill="#231f20">0</text>
<line x1="774.50" y1="628.18" x2="1458.50" y2="628.18" stroke="#8a8c8e" stroke-width="1.40"/>
<text transform="translate(763.00,635.38) scale(0.8500,1)" font-size="18.00" text-anchor="end" font-family="'Liberation Sans', sans-serif" fill="#231f20">5</text>
<line x1="774.50" y1="592.06" x2="1458.50" y2="592.06" stroke="#8a8c8e" stroke-width="1.40"/>
<text transform="translate(763.00,599.26) scale(0.8500,1)" font-size="18.00" text-anchor="end" font-family="'Liberation Sans', sans-serif" fill="#231f20">10</text>
<line x1="774.50" y1="555.94" x2="1458.50" y2="555.94" stroke="#8a8c8e" stroke-width="1.40"/>
<text transform="translate(763.00,563.14) scale(0.8500,1)" font-size="18.00" text-anchor="end" font-family="'Liberation Sans', sans-serif" fill="#231f20">15</text>
<line x1="774.50" y1="519.82" x2="1458.50" y2="519.82" stroke="#8a8c8e" stroke-width="1.40"/>
<text transform="translate(763.00,527.02) scale(0.8500,1)" font-size="18.00" text-anchor="end" font-family="'Liberation Sans', sans-serif" fill="#231f20">20</text>
<line x1="774.50" y1="483.70" x2="1458.50" y2="483.70" stroke="#8a8c8e" stroke-width="1.40"/>
<text transform="translate(763.00,490.90) scale(0.8500,1)" font-size="18.00" text-anchor="end" font-family="'Liberation Sans', sans-serif" fill="#231f20">25</text>
<line x1="779.50" y1="483.70" x2="779.50" y2="670.30" stroke="#8a8c8e" stroke-width="1.60"/>
<line x1="779.50" y1="664.30" x2="779.50" y2="670.30" stroke="#8a8c8e" stroke-width="1.30"/>
<line x1="915.30" y1="664.30" x2="915.30" y2="670.30" stroke="#8a8c8e" stroke-width="1.30"/>
<line x1="1051.10" y1="664.30" x2="1051.10" y2="670.30" stroke="#8a8c8e" stroke-width="1.30"/>
<line x1="1186.90" y1="664.30" x2="1186.90" y2="670.30" stroke="#8a8c8e" stroke-width="1.30"/>
<line x1="1322.70" y1="664.30" x2="1322.70" y2="670.30" stroke="#8a8c8e" stroke-width="1.30"/>
<line x1="1458.50" y1="664.30" x2="1458.50" y2="670.30" stroke="#8a8c8e" stroke-width="1.30"/>
<rect x="818.70" y="519.82" width="56.50" height="143.78" fill="url(#vgB)"/>
<rect x="818.70" y="519.82" width="56.50" height="143.78" fill="url(#hgB)"/>
<polygon points="818.70,519.82 875.20,519.82 870.70,524.32 823.20,524.32" fill="url(#tbB)"/>
<polygon points="818.70,663.60 875.20,663.60 870.70,659.10 823.20,659.10" fill="#3c3c3c" fill-opacity="0.60"/>
<text transform="translate(846.40,505.32) scale(0.8000,1)" font-size="17.50" text-anchor="middle" font-family="'Liberation Sans', sans-serif" fill="#231f20">20</text>
<text transform="translate(847.10,702.00) scale(0.7723,1)" font-size="18.00" text-anchor="middle" font-family="'Liberation Sans', sans-serif" fill="#231f20">Den Haag</text>
<rect x="954.50" y="555.94" width="56.50" height="107.66" fill="url(#vgB)"/>
<rect x="954.50" y="555.94" width="56.50" height="107.66" fill="url(#hgB)"/>
<polygon points="954.50,555.94 1011.00,555.94 1006.50,560.44 959.00,560.44" fill="url(#tbB)"/>
<polygon points="954.50,663.60 1011.00,663.60 1006.50,659.10 959.00,659.10" fill="#3c3c3c" fill-opacity="0.60"/>
<text transform="translate(982.20,541.44) scale(0.8000,1)" font-size="17.50" text-anchor="middle" font-family="'Liberation Sans', sans-serif" fill="#231f20">15</text>
<text transform="translate(982.90,702.00) scale(0.8694,1)" font-size="18.00" text-anchor="middle" font-family="'Liberation Sans', sans-serif" fill="#231f20">Amsterdam</text>
<rect x="1090.30" y="606.51" width="56.50" height="57.09" fill="url(#vgB)"/>
<rect x="1090.30" y="606.51" width="56.50" height="57.09" fill="url(#hgB)"/>
<polygon points="1090.30,606.51 1146.80,606.51 1142.30,611.01 1094.80,611.01" fill="url(#tbB)"/>
<polygon points="1090.30,663.60 1146.80,663.60 1142.30,659.10 1094.80,659.10" fill="#3c3c3c" fill-opacity="0.60"/>
<text transform="translate(1118.00,592.01) scale(0.8000,1)" font-size="17.50" text-anchor="middle" font-family="'Liberation Sans', sans-serif" fill="#231f20">8</text>
<text transform="translate(1118.70,702.00) scale(0.8120,1)" font-size="18.00" text-anchor="middle" font-family="'Liberation Sans', sans-serif" fill="#231f20">Den Bosch</text>
<rect x="1226.10" y="642.63" width="56.50" height="20.97" fill="url(#vgB)"/>
<rect x="1226.10" y="642.63" width="56.50" height="20.97" fill="url(#hgB)"/>
<polygon points="1226.10,642.63 1282.60,642.63 1278.10,647.13 1230.60,647.13" fill="url(#tbB)"/>
<polygon points="1226.10,663.60 1282.60,663.60 1278.10,659.10 1230.60,659.10" fill="#3c3c3c" fill-opacity="0.60"/>
<text transform="translate(1253.80,628.13) scale(0.8000,1)" font-size="17.50" text-anchor="middle" font-family="'Liberation Sans', sans-serif" fill="#231f20">3</text>
<text transform="translate(1254.50,702.00) scale(0.8885,1)" font-size="18.00" text-anchor="middle" font-family="'Liberation Sans', sans-serif" fill="#231f20">Arnhem</text>
<text transform="translate(1389.60,649.80) scale(0.8000,1)" font-size="17.50" text-anchor="middle" font-family="'Liberation Sans', sans-serif" fill="#231f20">0</text>
<text transform="translate(1390.30,702.00) scale(0.8730,1)" font-size="18.00" text-anchor="middle" font-family="'Liberation Sans', sans-serif" fill="#231f20">Leeuwarden</text>
<g transform="translate(745.80,748.20) scale(0.9142,1)" font-family="'Liberation Serif', serif" font-style="italic" fill="#231f20"><text transform="translate(0.00,0.00)" font-size="32.50">Figuur </text><text transform="translate(98.40,6.17)" font-size="32.50">5</text><text transform="translate(114.65,0.00)" font-size="32.50">: Plaatsverdeling gerechtshof</text></g>
<line x1="76.70" y1="1039.80" x2="588.50" y2="1039.80" stroke="#8a8c8e" stroke-width="1.20"/>
<text transform="translate(68.30,1044.20)" font-size="12.30" text-anchor="end" font-family="'Liberation Sans', sans-serif" fill="#231f20">0</text>
<line x1="76.70" y1="997.37" x2="588.50" y2="997.37" stroke="#8a8c8e" stroke-width="1.20"/>
<text transform="translate(68.30,1001.77)" font-size="12.30" text-anchor="end" font-family="'Liberation Sans', sans-serif" fill="#231f20">20</text>
<line x1="76.70" y1="954.94" x2="588.50" y2="954.94" stroke="#8a8c8e" stroke-width="1.20"/>
<text transform="translate(68.30,959.34)" font-size="12.30" text-anchor="end" font-family="'Liberation Sans', sans-serif" fill="#231f20">40</text>
<line x1="76.70" y1="912.51" x2="588.50" y2="912.51" stroke="#8a8c8e" stroke-width="1.20"/>
<text transform="translate(68.30,916.91)" font-size="12.30" text-anchor="end" font-family="'Liberation Sans', sans-serif" fill="#231f20">60</text>
<line x1="76.70" y1="870.09" x2="588.50" y2="870.09" stroke="#8a8c8e" stroke-width="1.20"/>
<text transform="translate(68.30,874.49)" font-size="12.30" text-anchor="end" font-family="'Liberation Sans', sans-serif" fill="#231f20">80</text>
<line x1="76.70" y1="827.66" x2="588.50" y2="827.66" stroke="#8a8c8e" stroke-width="1.20"/>
<text transform="translate(68.30,832.06)" font-size="12.30" text-anchor="end" font-family="'Liberation Sans', sans-serif" fill="#231f20">.00</text>
<line x1="76.70" y1="785.23" x2="588.50" y2="785.23" stroke="#8a8c8e" stroke-width="1.20"/>
<text transform="translate(68.30,789.63)" font-size="12.30" text-anchor="end" font-family="'Liberation Sans', sans-serif" fill="#231f20">.20</text>
<line x1="76.70" y1="742.80" x2="588.50" y2="742.80" stroke="#8a8c8e" stroke-width="1.20"/>
<text transform="translate(68.30,747.20)" font-size="12.30" text-anchor="end" font-family="'Liberation Sans', sans-serif" fill="#231f20">.40</text>
<line x1="80.70" y1="742.80" x2="80.70" y2="1043.80" stroke="#8a8c8e" stroke-width="1.40"/>
<line x1="80.70" y1="1039.80" x2="80.70" y2="1043.80" stroke="#8a8c8e" stroke-width="1.20"/>
<line x1="182.26" y1="1039.80" x2="182.26" y2="1043.80" stroke="#8a8c8e" stroke-width="1.20"/>
<line x1="283.82" y1="1039.80" x2="283.82" y2="1043.80" stroke="#8a8c8e" stroke-width="1.20"/>
<line x1="385.38" y1="1039.80" x2="385.38" y2="1043.80" stroke="#8a8c8e" stroke-width="1.20"/>
<line x1="486.94" y1="1039.80" x2="486.94" y2="1043.80" stroke="#8a8c8e" stroke-width="1.20"/>
<line x1="588.50" y1="1039.80" x2="588.50" y2="1043.80" stroke="#8a8c8e" stroke-width="1.20"/>
<rect x="111.78" y="779.92" width="42.00" height="259.28" fill="url(#vgA)"/>
<rect x="111.78" y="779.92" width="42.00" height="259.28" fill="url(#hgA)"/>
<polygon points="111.78,779.92 153.78,779.92 149.78,783.92 115.78,783.92" fill="url(#tbA)"/>
<polygon points="111.78,1039.20 153.78,1039.20 149.78,1035.20 115.78,1035.20" fill="#1c1a1b" fill-opacity="0.55"/>
<text transform="translate(141.78,775.80) scale(1.0600,1)" font-size="11.80" text-anchor="middle" font-family="'Liberation Sans', sans-serif" fill="#231f20">123</text>
<text transform="translate(133.28,1059.30) scale(0.900,1) rotate(-45.00) scale(1.0404,1)" font-size="11.80" text-anchor="end" font-family="'Liberation Sans', sans-serif" fill="#231f20">Geldigheidsverweer</text>
<rect x="213.34" y="921.00" width="42.00" height="118.20" fill="url(#vgA)"/>
<rect x="213.34" y="921.00" width="42.00" height="118.20" fill="url(#hgA)"/>
<polygon points="213.34,921.00 255.34,921.00 251.34,925.00 217.34,925.00" fill="url(#tbA)"/>
<polygon points="213.34,1039.20 255.34,1039.20 251.34,1035.20 217.34,1035.20" fill="#1c1a1b" fill-opacity="0.55"/>
<text transform="translate(238.34,901.00) scale(1.0600,1)" font-size="11.80" text-anchor="middle" font-family="'Liberation Sans', sans-serif" fill="#231f20">57</text>
<text transform="translate(234.84,1059.30) scale(0.900,1) rotate(-45.00) scale(1.0433,1)" font-size="11.80" text-anchor="end" font-family="'Liberation Sans', sans-serif" fill="#231f20">Geen verwarringsgevaar</text>
<rect x="314.90" y="994.19" width="42.00" height="45.01" fill="url(#vgA)"/>
<rect x="314.90" y="994.19" width="42.00" height="45.01" fill="url(#hgA)"/>
<polygon points="314.90,994.19 356.90,994.19 352.90,998.19 318.90,998.19" fill="url(#tbA)"/>
<polygon points="314.90,1039.20 356.90,1039.20 352.90,1035.20 318.90,1035.20" fill="#1c1a1b" fill-opacity="0.55"/>
<text transform="translate(337.90,986.00) scale(1.0600,1)" font-size="11.80" text-anchor="middle" font-family="'Liberation Sans', sans-serif" fill="#231f20">23</text>
<text transform="translate(336.40,1059.30) scale(0.900,1) rotate(-45.00) scale(1.0718,1)" font-size="11.80" text-anchor="end" font-family="'Liberation Sans', sans-serif" fill="#231f20">Bekendheid, voordeeltrekken/verwatering</text>
<rect x="416.46" y="976.16" width="42.00" height="63.04" fill="url(#vgA)"/>
<rect x="416.46" y="976.16" width="42.00" height="63.04" fill="url(#hgA)"/>
<polygon points="416.46,976.16 458.46,976.16 454.46,980.16 420.46,980.16" fill="url(#tbA)"/>
<polygon points="416.46,1039.20 458.46,1039.20 454.46,1035.20 420.46,1035.20" fill="#1c1a1b" fill-opacity="0.55"/>
<text transform="translate(438.46,945.00) scale(1.0600,1)" font-size="11.80" text-anchor="middle" font-family="'Liberation Sans', sans-serif" fill="#231f20">31</text>
<text transform="translate(437.96,1059.30) scale(0.900,1) rotate(-45.00) scale(1.0874,1)" font-size="11.80" text-anchor="end" font-family="'Liberation Sans', sans-serif" fill="#231f20">Niet-ontvankelijkheid/onbevoegdheid Rb</text>
<rect x="518.02" y="1006.92" width="42.00" height="32.28" fill="url(#vgA)"/>
<rect x="518.02" y="1006.92" width="42.00" height="32.28" fill="url(#hgA)"/>
<polygon points="518.02,1006.92 560.02,1006.92 556.02,1010.92 522.02,1010.92" fill="url(#tbA)"/>
<polygon points="518.02,1039.20 560.02,1039.20 556.02,1035.20 522.02,1035.20" fill="#1c1a1b" fill-opacity="0.55"/>
<text transform="translate(539.02,987.00) scale(1.0600,1)" font-size="11.80" text-anchor="middle" font-family="'Liberation Sans', sans-serif" fill="#231f20">16</text>
<text transform="translate(539.52,1059.30) scale(0.900,1) rotate(-45.00) scale(1.0521,1)" font-size="11.80" text-anchor="end" font-family="'Liberation Sans', sans-serif" fill="#231f20">Geen gebruik in ec. verkeer</text>
<g transform="translate(54.00,1259.00) scale(0.9124,1)" font-family="'Liberation Serif', serif" font-style="italic" fill="#231f20"><text transform="translate(0.00,0.00)" font-size="24.40">Figuur </text><text transform="translate(73.88,0.00) scale(1.280,1)" font-size="17.32" stroke="#231f20" stroke-width="0.29">10</text><text transform="translate(96.05,0.00)" font-size="24.40">: Geselecteerde gevoerde en besproken verweren</text></g>
<line x1="784.50" y1="1050.20" x2="1459.50" y2="1050.20" stroke="#8a8c8e" stroke-width="1.90"/>
<text transform="translate(773.00,1057.20) scale(0.9200,1)" font-size="17.50" text-anchor="end" font-family="'Liberation Sans', sans-serif" fill="#231f20">0</text>
<line x1="784.50" y1="1023.74" x2="1459.50" y2="1023.74" stroke="#8a8c8e" stroke-width="1.40"/>
<text transform="translate(773.00,1030.74) scale(0.9200,1)" font-size="17.50" text-anchor="end" font-family="'Liberation Sans', sans-serif" fill="#231f20">10</text>
<line x1="784.50" y1="997.28" x2="1459.50" y2="997.28" stroke="#8a8c8e" stroke-width="1.40"/>
<text transform="translate(773.00,1004.28) scale(0.9200,1)" font-size="17.50" text-anchor="end" font-family="'Liberation Sans', sans-serif" fill="#231f20">20</text>
<line x1="784.50" y1="970.81" x2="1459.50" y2="970.81" stroke="#8a8c8e" stroke-width="1.40"/>
<text transform="translate(773.00,977.81) scale(0.9200,1)" font-size="17.50" text-anchor="end" font-family="'Liberation Sans', sans-serif" fill="#231f20">30</text>
<line x1="784.50" y1="944.35" x2="1459.50" y2="944.35" stroke="#8a8c8e" stroke-width="1.40"/>
<text transform="translate(773.00,951.35) scale(0.9200,1)" font-size="17.50" text-anchor="end" font-family="'Liberation Sans', sans-serif" fill="#231f20">40</text>
<line x1="784.50" y1="917.89" x2="1459.50" y2="917.89" stroke="#8a8c8e" stroke-width="1.40"/>
<text transform="translate(773.00,924.89) scale(0.9200,1)" font-size="17.50" text-anchor="end" font-family="'Liberation Sans', sans-serif" fill="#231f20">50</text>
<line x1="784.50" y1="891.42" x2="1459.50" y2="891.42" stroke="#8a8c8e" stroke-width="1.40"/>
<text transform="translate(773.00,898.42) scale(0.9200,1)" font-size="17.50" text-anchor="end" font-family="'Liberation Sans', sans-serif" fill="#231f20">60</text>
<line x1="784.50" y1="864.96" x2="1459.50" y2="864.96" stroke="#8a8c8e" stroke-width="1.40"/>
<text transform="translate(773.00,871.96) scale(0.9200,1)" font-size="17.50" text-anchor="end" font-family="'Liberation Sans', sans-serif" fill="#231f20">70</text>
<line x1="784.50" y1="838.50" x2="1459.50" y2="838.50" stroke="#8a8c8e" stroke-width="1.40"/>
<text transform="translate(773.00,845.50) scale(0.9200,1)" font-size="17.50" text-anchor="end" font-family="'Liberation Sans', sans-serif" fill="#231f20">80</text>
<line x1="789.50" y1="838.50" x2="789.50" y2="1056.20" stroke="#8a8c8e" stroke-width="1.60"/>
<line x1="789.50" y1="1050.20" x2="789.50" y2="1056.20" stroke="#8a8c8e" stroke-width="1.30"/>
<line x1="901.17" y1="1050.20" x2="901.17" y2="1056.20" stroke="#8a8c8e" stroke-width="1.30"/>
<line x1="1012.83" y1="1050.20" x2="1012.83" y2="1056.20" stroke="#8a8c8e" stroke-width="1.30"/>
<line x1="1124.50" y1="1050.20" x2="1124.50" y2="1056.20" stroke="#8a8c8e" stroke-width="1.30"/>
<line x1="1236.17" y1="1050.20" x2="1236.17" y2="1056.20" stroke="#8a8c8e" stroke-width="1.30"/>
<line x1="1347.83" y1="1050.20" x2="1347.83" y2="1056.20" stroke="#8a8c8e" stroke-width="1.30"/>
<line x1="1459.50" y1="1050.20" x2="1459.50" y2="1056.20" stroke="#8a8c8e" stroke-width="1.30"/>
<rect x="822.23" y="851.13" width="45.80" height="198.37" fill="url(#vgA)"/>
<rect x="822.23" y="851.13" width="45.80" height="198.37" fill="url(#hgA)"/>
<polygon points="822.23,851.13 868.03,851.13 862.03,857.13 828.23,857.13" fill="url(#tbA)"/>
<polygon points="822.23,1049.50 868.03,1049.50 862.03,1043.50 828.23,1043.50" fill="#1c1a1b" fill-opacity="0.55"/>
<text transform="translate(844.83,839.03) scale(0.9100,1)" font-size="17.50" text-anchor="middle" font-family="'Liberation Sans', sans-serif" fill="#231f20">75</text>
<text transform="translate(847.83,1080.50) scale(0.870,1) rotate(-45.00) scale(1.0100,1)" font-size="18.00" text-anchor="end" font-family="'Liberation Sans', sans-serif" fill="#231f20">Handelsnaamrecht</text>
<rect x="933.90" y="996.68" width="45.80" height="52.82" fill="url(#vgA)"/>
<rect x="933.90" y="996.68" width="45.80" height="52.82" fill="url(#hgA)"/>
<polygon points="933.90,996.68 979.70,996.68 973.70,1002.68 939.90,1002.68" fill="url(#tbA)"/>
<polygon points="933.90,1049.50 979.70,1049.50 973.70,1043.50 939.90,1043.50" fill="#1c1a1b" fill-opacity="0.55"/>
<text transform="translate(956.50,984.58) scale(0.9100,1)" font-size="17.50" text-anchor="middle" font-family="'Liberation Sans', sans-serif" fill="#231f20">20</text>
<text transform="translate(959.50,1080.50) scale(0.870,1) rotate(-45.00) scale(1.0100,1)" font-size="18.00" text-anchor="end" font-family="'Liberation Sans', sans-serif" fill="#231f20">Slaafse nabootsing</text>
<rect x="1045.57" y="930.52" width="45.80" height="118.98" fill="url(#vgA)"/>
<rect x="1045.57" y="930.52" width="45.80" height="118.98" fill="url(#hgA)"/>
<polygon points="1045.57,930.52 1091.37,930.52 1085.37,936.52 1051.57,936.52" fill="url(#tbA)"/>
<polygon points="1045.57,1049.50 1091.37,1049.50 1085.37,1043.50 1051.57,1043.50" fill="#1c1a1b" fill-opacity="0.55"/>
<text transform="translate(1068.17,918.42) scale(0.9100,1)" font-size="17.50" text-anchor="middle" font-family="'Liberation Sans', sans-serif" fill="#231f20">45</text>
<text transform="translate(1072.67,1077.50) scale(0.870,1) rotate(-45.00) scale(1.0100,1)" font-size="18.00" text-anchor="end" font-family="'Liberation Sans', sans-serif" fill="#231f20">Auteursrecht</text>
<rect x="1157.23" y="1031.08" width="45.80" height="18.42" fill="url(#vgA)"/>
<rect x="1157.23" y="1031.08" width="45.80" height="18.42" fill="url(#hgA)"/>
<polygon points="1157.23,1031.08 1203.03,1031.08 1197.03,1037.08 1163.23,1037.08" fill="url(#tbA)"/>
<polygon points="1157.23,1049.50 1203.03,1049.50 1197.03,1043.50 1163.23,1043.50" fill="#1c1a1b" fill-opacity="0.55"/>
<text transform="translate(1179.83,1018.98) scale(0.9100,1)" font-size="17.50" text-anchor="middle" font-family="'Liberation Sans', sans-serif" fill="#231f20">7</text>
<text transform="translate(1184.33,1077.50) scale(0.870,1) rotate(-45.00) scale(1.0100,1)" font-size="18.00" text-anchor="end" font-family="'Liberation Sans', sans-serif" fill="#231f20">Modellenrecht</text>
<rect x="1268.90" y="1017.85" width="45.80" height="31.65" fill="url(#vgA)"/>
<rect x="1268.90" y="1017.85" width="45.80" height="31.65" fill="url(#hgA)"/>
<polygon points="1268.90,1017.85 1314.70,1017.85 1308.70,1023.85 1274.90,1023.85" fill="url(#tbA)"/>
<polygon points="1268.90,1049.50 1314.70,1049.50 1308.70,1043.50 1274.90,1043.50" fill="#1c1a1b" fill-opacity="0.55"/>
<text transform="translate(1291.50,1005.75) scale(0.9100,1)" font-size="17.50" text-anchor="middle" font-family="'Liberation Sans', sans-serif" fill="#231f20">12</text>
<text transform="translate(1296.00,1077.50) scale(0.870,1) rotate(-45.00) scale(1.0100,1)" font-size="18.00" text-anchor="end" font-family="'Liberation Sans', sans-serif" fill="#231f20">Reclamerecht</text>
<rect x="1380.67" y="1046.05" width="46.00" height="3.65" fill="#b1b3b6"/>
<text transform="translate(1403.17,1034.85) scale(0.9100,1)" font-size="17.50" text-anchor="middle" font-family="'Liberation Sans', sans-serif" fill="#231f20">1</text>
<text transform="translate(1407.67,1077.50) scale(0.870,1) rotate(-45.00) scale(1.0100,1)" font-size="18.00" text-anchor="end" font-family="'Liberation Sans', sans-serif" fill="#231f20">Octrooirecht</text>
<g transform="translate(745.70,1233.90) scale(0.9164,1)" font-family="'Liberation Serif', serif" font-style="italic" fill="#231f20"><text transform="translate(0.00,0.00)" font-size="32.50">Figuur </text><text transform="translate(98.40,0.00) scale(1.280,1)" font-size="23.07" stroke="#231f20" stroke-width="0.39">1</text><text transform="translate(113.17,6.17)" font-size="32.50">3</text><text transform="translate(129.42,0.00)" font-size="32.50">: Samenloop met andere IE-rechten</text></g>
<line x1="47.50" y1="1559.50" x2="729.50" y2="1559.50" stroke="#999b9e" stroke-width="1.00"/>
<text transform="translate(35.00,1566.00) scale(0.9500,1)" font-size="17.00" text-anchor="end" font-family="'Liberation Sans', sans-serif" fill="#3a3a3c">0</text>
<line x1="47.50" y1="1531.80" x2="729.50" y2="1531.80" stroke="#999b9e" stroke-width="1.00"/>
<text transform="translate(35.00,1538.30) scale(0.9500,1)" font-size="17.00" text-anchor="end" font-family="'Liberation Sans', sans-serif" fill="#3a3a3c">2</text>
<line x1="47.50" y1="1504.10" x2="729.50" y2="1504.10" stroke="#999b9e" stroke-width="1.00"/>
<text transform="translate(35.00,1510.60) scale(0.9500,1)" font-size="17.00" text-anchor="end" font-family="'Liberation Sans', sans-serif" fill="#3a3a3c">4</text>
<line x1="47.50" y1="1476.40" x2="729.50" y2="1476.40" stroke="#999b9e" stroke-width="1.00"/>
<text transform="translate(35.00,1482.90) scale(0.9500,1)" font-size="17.00" text-anchor="end" font-family="'Liberation Sans', sans-serif" fill="#3a3a3c">6</text>
<line x1="47.50" y1="1448.70" x2="729.50" y2="1448.70" stroke="#999b9e" stroke-width="1.00"/>
<text transform="translate(35.00,1455.20) scale(0.9500,1)" font-size="17.00" text-anchor="end" font-family="'Liberation Sans', sans-serif" fill="#3a3a3c">8</text>
<line x1="47.50" y1="1421.00" x2="729.50" y2="1421.00" stroke="#999b9e" stroke-width="1.00"/>
<text transform="translate(35.00,1427.50) scale(0.9500,1)" font-size="17.00" text-anchor="end" font-family="'Liberation Sans', sans-serif" fill="#3a3a3c">10</text>
<line x1="47.50" y1="1393.30" x2="729.50" y2="1393.30" stroke="#999b9e" stroke-width="1.00"/>
<text transform="translate(35.00,1399.80) scale(0.9500,1)" font-size="17.00" text-anchor="end" font-family="'Liberation Sans', sans-serif" fill="#3a3a3c">12</text>
<line x1="47.50" y1="1365.60" x2="729.50" y2="1365.60" stroke="#999b9e" stroke-width="1.00"/>
<text transform="translate(35.00,1372.10) scale(0.9500,1)" font-size="17.00" text-anchor="end" font-family="'Liberation Sans', sans-serif" fill="#3a3a3c">14</text>
<line x1="51.50" y1="1365.60" x2="51.50" y2="1565.50" stroke="#999b9e" stroke-width="1.00"/>
<line x1="51.50" y1="1559.50" x2="51.50" y2="1565.50" stroke="#999b9e" stroke-width="1.00"/>
<line x1="148.36" y1="1559.50" x2="148.36" y2="1565.50" stroke="#999b9e" stroke-width="1.00"/>
<line x1="245.21" y1="1559.50" x2="245.21" y2="1565.50" stroke="#999b9e" stroke-width="1.00"/>
<line x1="342.07" y1="1559.50" x2="342.07" y2="1565.50" stroke="#999b9e" stroke-width="1.00"/>
<line x1="438.93" y1="1559.50" x2="438.93" y2="1565.50" stroke="#999b9e" stroke-width="1.00"/>
<line x1="535.79" y1="1559.50" x2="535.79" y2="1565.50" stroke="#999b9e" stroke-width="1.00"/>
<line x1="632.64" y1="1559.50" x2="632.64" y2="1565.50" stroke="#999b9e" stroke-width="1.00"/>
<line x1="729.50" y1="1559.50" x2="729.50" y2="1565.50" stroke="#999b9e" stroke-width="1.00"/>
<rect x="80.83" y="1393.30" width="38.80" height="165.70" fill="url(#vgA)"/>
<rect x="80.83" y="1393.30" width="38.80" height="165.70" fill="url(#hgA)"/>
<polygon points="80.83,1393.30 119.63,1393.30 114.63,1398.30 85.83,1398.30" fill="url(#tbA)"/>
<polygon points="80.83,1559.00 119.63,1559.00 114.63,1554.00 85.83,1554.00" fill="#1c1a1b" fill-opacity="0.55"/>
<text transform="translate(100.23,1378.30) scale(0.9500,1)" font-size="17.50" text-anchor="middle" font-family="'Liberation Sans', sans-serif" fill="#231f20">12</text>
<text transform="translate(103.43,1588.20) scale(0.863,1) rotate(-45.00) scale(1.0164,1)" font-size="18.50" text-anchor="end" font-family="'Liberation Sans', sans-serif" fill="#231f20">Canon/Cannon</text>
<rect x="177.69" y="1407.15" width="38.80" height="151.85" fill="url(#vgA)"/>
<rect x="177.69" y="1407.15" width="38.80" height="151.85" fill="url(#hgA)"/>
<polygon points="177.69,1407.15 216.49,1407.15 211.49,1412.15 182.69,1412.15" fill="url(#tbA)"/>
<polygon points="177.69,1559.00 216.49,1559.00 211.49,1554.00 182.69,1554.00" fill="#1c1a1b" fill-opacity="0.55"/>
<text transform="translate(197.09,1392.15) scale(0.9500,1)" font-size="17.50" text-anchor="middle" font-family="'Liberation Sans', sans-serif" fill="#231f20">11</text>
<text transform="translate(200.29,1588.20) scale(0.863,1) rotate(-45.00) scale(1.0164,1)" font-size="18.50" text-anchor="end" font-family="'Liberation Sans', sans-serif" fill="#231f20">Puma/Sabel</text>
<rect x="274.54" y="1434.85" width="38.80" height="124.15" fill="url(#vgA)"/>
<rect x="274.54" y="1434.85" width="38.80" height="124.15" fill="url(#hgA)"/>
<polygon points="274.54,1434.85 313.34,1434.85 308.34,1439.85 279.54,1439.85" fill="url(#tbA)"/>
<polygon points="274.54,1559.00 313.34,1559.00 308.34,1554.00 279.54,1554.00" fill="#1c1a1b" fill-opacity="0.55"/>
<text transform="translate(293.94,1419.85) scale(0.9500,1)" font-size="17.50" text-anchor="middle" font-family="'Liberation Sans', sans-serif" fill="#231f20">9</text>
<text transform="translate(297.14,1588.20) scale(0.863,1) rotate(-45.00) scale(1.0164,1)" font-size="18.50" text-anchor="end" font-family="'Liberation Sans', sans-serif" fill="#231f20">BMW/Deenik</text>
<rect x="371.40" y="1462.55" width="38.80" height="96.45" fill="url(#vgA)"/>
<rect x="371.40" y="1462.55" width="38.80" height="96.45" fill="url(#hgA)"/>
<polygon points="371.40,1462.55 410.20,1462.55 405.20,1467.55 376.40,1467.55" fill="url(#tbA)"/>
<polygon points="371.40,1559.00 410.20,1559.00 405.20,1554.00 376.40,1554.00" fill="#1c1a1b" fill-opacity="0.55"/>
<text transform="translate(390.80,1447.55) scale(0.9500,1)" font-size="17.50" text-anchor="middle" font-family="'Liberation Sans', sans-serif" fill="#231f20">7</text>
<text transform="translate(394.00,1588.20) scale(0.863,1) rotate(-45.00) scale(1.0164,1)" font-size="18.50" text-anchor="end" font-family="'Liberation Sans', sans-serif" fill="#231f20">Marca/Adidas</text>
<rect x="468.26" y="1476.40" width="38.80" height="82.60" fill="url(#vgA)"/>
<rect x="468.26" y="1476.40" width="38.80" height="82.60" fill="url(#hgA)"/>
<polygon points="468.26,1476.40 507.06,1476.40 502.06,1481.40 473.26,1481.40" fill="url(#tbA)"/>
<polygon points="468.26,1559.00 507.06,1559.00 502.06,1554.00 473.26,1554.00" fill="#1c1a1b" fill-opacity="0.55"/>
<text transform="translate(487.66,1461.40) scale(0.9500,1)" font-size="17.50" text-anchor="middle" font-family="'Liberation Sans', sans-serif" fill="#231f20">6</text>
<text transform="translate(490.86,1588.20) scale(0.863,1) rotate(-45.00) scale(1.0164,1)" font-size="18.50" text-anchor="end" font-family="'Liberation Sans', sans-serif" fill="#231f20">Chiemsee</text>
<rect x="565.11" y="1476.40" width="38.80" height="82.60" fill="url(#vgA)"/>
<rect x="565.11" y="1476.40" width="38.80" height="82.60" fill="url(#hgA)"/>
<polygon points="565.11,1476.40 603.91,1476.40 598.91,1481.40 570.11,1481.40" fill="url(#tbA)"/>
<polygon points="565.11,1559.00 603.91,1559.00 598.91,1554.00 570.11,1554.00" fill="#1c1a1b" fill-opacity="0.55"/>
<text transform="translate(584.51,1461.40) scale(0.9500,1)" font-size="17.50" text-anchor="middle" font-family="'Liberation Sans', sans-serif" fill="#231f20">6</text>
<text transform="translate(587.71,1588.20) scale(0.863,1) rotate(-45.00) scale(1.0164,1)" font-size="18.50" text-anchor="end" font-family="'Liberation Sans', sans-serif" fill="#231f20">L'Oréal/Bellure</text>
<rect x="661.97" y="1476.40" width="38.80" height="82.60" fill="url(#vgA)"/>
<rect x="661.97" y="1476.40" width="38.80" height="82.60" fill="url(#hgA)"/>
<polygon points="661.97,1476.40 700.77,1476.40 695.77,1481.40 666.97,1481.40" fill="url(#tbA)"/>
<polygon points="661.97,1559.00 700.77,1559.00 695.77,1554.00 666.97,1554.00" fill="#1c1a1b" fill-opacity="0.55"/>
<text transform="translate(681.37,1461.40) scale(0.9500,1)" font-size="17.50" text-anchor="middle" font-family="'Liberation Sans', sans-serif" fill="#231f20">6</text>
<text transform="translate(684.57,1588.20) scale(0.863,1) rotate(-45.00) scale(1.0164,1)" font-size="18.50" text-anchor="end" font-family="'Liberation Sans', sans-serif" fill="#231f20">Opel/Autec</text>
<g transform="translate(16.80,1720.60) scale(0.9272,1)" font-family="'Liberation Serif', serif" font-style="italic" fill="#231f20"><text transform="translate(0.00,0.00)" font-size="32.50">Figuur </text><text transform="translate(98.40,0.00) scale(1.280,1)" font-size="23.07" stroke="#231f20" stroke-width="0.39">11</text><text transform="translate(125.75,0.00)" font-size="32.50">: Verwijzing naar arresten</text></g>
<rect x="756.50" y="1276.50" width="713.80" height="93.00" fill="#d1d3d4"/>
<line x1="756.50" y1="1276.50" x2="756.50" y2="1706.50" stroke="#231f20" stroke-width="1.20"/>
<line x1="1066.50" y1="1276.50" x2="1066.50" y2="1706.50" stroke="#231f20" stroke-width="1.20"/>
<line x1="1275.50" y1="1276.50" x2="1275.50" y2="1706.50" stroke="#231f20" stroke-width="1.20"/>
<line x1="1470.50" y1="1276.50" x2="1470.50" y2="1706.50" stroke="#231f20" stroke-width="1.20"/>
<line x1="755.90" y1="1276.50" x2="1470.90" y2="1276.50" stroke="#231f20" stroke-width="1.20"/>
<line x1="755.90" y1="1369.50" x2="1470.90" y2="1369.50" stroke="#231f20" stroke-width="1.20"/>
<line x1="755.90" y1="1425.50" x2="1470.90" y2="1425.50" stroke="#231f20" stroke-width="1.20"/>
<line x1="755.90" y1="1481.50" x2="1470.90" y2="1481.50" stroke="#231f20" stroke-width="1.20"/>
<line x1="755.90" y1="1537.50" x2="1470.90" y2="1537.50" stroke="#231f20" stroke-width="1.20"/>
<line x1="755.90" y1="1593.50" x2="1470.90" y2="1593.50" stroke="#231f20" stroke-width="1.20"/>
<line x1="755.90" y1="1650.50" x2="1470.90" y2="1650.50" stroke="#231f20" stroke-width="1.20"/>
<line x1="755.90" y1="1706.50" x2="1470.90" y2="1706.50" stroke="#231f20" stroke-width="1.20"/>
<text transform="translate(774.50,1334.00) scale(0.9463,1)" font-size="28.50" text-anchor="start" font-family="'Liberation Serif', serif" font-weight="bold" fill="#231f20">Sub</text>
<text transform="translate(1099.50,1316.00) scale(1.0016,1)" font-size="28.50" text-anchor="start" font-family="'Liberation Serif', serif" font-weight="bold" fill="#231f20">Aantal keer</text>
<text transform="translate(1099.50,1351.50) scale(1.0460,1)" font-size="28.50" text-anchor="start" font-family="'Liberation Serif', serif" font-weight="bold" fill="#231f20">toegewezen</text>
<text transform="translate(1305.50,1334.00) scale(1.0076,1)" font-size="28.50" text-anchor="start" font-family="'Liberation Serif', serif" font-weight="bold" fill="#231f20">Percentage</text>
<text transform="translate(774.50,1407.70) scale(0.9889,1)" font-size="28.00" text-anchor="start" font-family="'Liberation Serif', serif" fill="#231f20">Sub a</text>
<g transform="translate(1197.00,1410.50) scale(1.0500,1)" font-family="'Liberation Serif', serif" fill="#231f20"><text transform="translate(-27.50,5.22)" font-size="27.50">37</text></g>
<g transform="translate(1345.50,1410.50) scale(1.0200,1)" font-family="'Liberation Serif', serif" fill="#231f20"><text transform="translate(0.00,0.00) scale(1.280,1)" font-size="19.52" stroke="#231f20" stroke-width="0.33">1</text><text transform="translate(12.50,5.22)" font-size="27.50">4</text><text transform="translate(26.25,0.00) scale(1.050,1)" font-size="22.00">%</text></g>
<text transform="translate(774.50,1463.70) scale(0.9911,1)" font-size="28.00" text-anchor="start" font-family="'Liberation Serif', serif" fill="#231f20">Sub b</text>
<g transform="translate(1197.00,1466.50) scale(1.0500,1)" font-family="'Liberation Serif', serif" fill="#231f20"><text transform="translate(-38.74,0.00) scale(1.280,1)" font-size="19.52" stroke="#231f20" stroke-width="0.33">10</text><text transform="translate(-13.75,0.00)" font-size="27.50">8</text></g>
<g transform="translate(1345.50,1466.50) scale(1.0200,1)" font-family="'Liberation Serif', serif" fill="#231f20"><text transform="translate(0.00,5.22)" font-size="27.50">4</text><text transform="translate(13.75,0.00) scale(1.280,1)" font-size="19.52" stroke="#231f20" stroke-width="0.33">0</text><text transform="translate(26.25,0.00) scale(1.050,1)" font-size="22.00">%</text></g>
<text transform="translate(774.50,1519.70) scale(0.9683,1)" font-size="28.00" text-anchor="start" font-family="'Liberation Serif', serif" fill="#231f20">Sub c</text>
<g transform="translate(1197.00,1522.50) scale(1.0500,1)" font-family="'Liberation Serif', serif" fill="#231f20"><text transform="translate(-26.25,0.00) scale(1.280,1)" font-size="19.52" stroke="#231f20" stroke-width="0.33">2</text><text transform="translate(-13.75,5.22)" font-size="27.50">4</text></g>
<g transform="translate(1345.50,1522.50) scale(1.0200,1)" font-family="'Liberation Serif', serif" fill="#231f20"><text transform="translate(0.00,5.22)" font-size="27.50">9</text><text transform="translate(13.75,0.00) scale(1.050,1)" font-size="22.00">%</text></g>
<text transform="translate(774.50,1575.70) scale(0.9958,1)" font-size="28.00" text-anchor="start" font-family="'Liberation Serif', serif" fill="#231f20">Sub d</text>
<g transform="translate(1197.00,1578.50) scale(1.0500,1)" font-family="'Liberation Serif', serif" fill="#231f20"><text transform="translate(-26.25,0.00) scale(1.280,1)" font-size="19.52" stroke="#231f20" stroke-width="0.33">2</text><text transform="translate(-13.75,5.22)" font-size="27.50">3</text></g>
<g transform="translate(1345.50,1578.50) scale(1.0200,1)" font-family="'Liberation Serif', serif" fill="#231f20"><text transform="translate(0.00,5.22)" font-size="27.50">9</text><text transform="translate(13.75,0.00) scale(1.050,1)" font-size="22.00">%</text></g>
<text transform="translate(774.50,1631.70) scale(1.0365,1)" font-size="28.00" text-anchor="start" font-family="'Liberation Serif', serif" fill="#231f20">Geen toewijzing</text>
<g transform="translate(1197.00,1634.50) scale(1.0500,1)" font-family="'Liberation Serif', serif" fill="#231f20"><text transform="translate(-37.49,0.00) scale(1.280,1)" font-size="19.52" stroke="#231f20" stroke-width="0.33">100</text></g>
<g transform="translate(1345.50,1634.50) scale(1.0200,1)" font-family="'Liberation Serif', serif" fill="#231f20"><text transform="translate(0.00,5.22)" font-size="27.50">37</text><text transform="translate(27.50,0.00) scale(1.050,1)" font-size="22.00">%</text></g>
<text transform="translate(774.50,1688.70) scale(1.0645,1)" font-size="28.00" text-anchor="start" font-family="'Liberation Serif', serif" fill="#231f20">Onbekend</text>
<g transform="translate(1197.00,1691.50) scale(1.0500,1)" font-family="'Liberation Serif', serif" fill="#231f20"><text transform="translate(-12.50,0.00) scale(1.280,1)" font-size="19.52" stroke="#231f20" stroke-width="0.33">1</text></g>
<g transform="translate(1345.50,1691.50) scale(1.0200,1)" font-family="'Liberation Serif', serif" fill="#231f20"><text transform="translate(0.00,0.00) scale(1.280,1)" font-size="19.52" stroke="#231f20" stroke-width="0.33">0</text><text transform="translate(12.50,0.00)" font-size="27.50">,</text><text transform="translate(19.37,5.22)" font-size="27.50">5</text><text transform="translate(33.12,0.00) scale(1.050,1)" font-size="22.00">%</text></g>
<g transform="translate(758.50,1747.50) scale(0.9250,1)" font-family="'Liberation Serif', serif" font-style="italic" fill="#231f20"><text transform="translate(0.00,0.00)" font-size="32.50">Tabel </text><text transform="translate(79.17,0.00) scale(1.280,1)" font-size="23.07" stroke="#231f20" stroke-width="0.39">2</text><text transform="translate(93.94,0.00)" font-size="32.50">: Aantal keer toewijzing van de vordering op grond</text></g>
<text transform="translate(757.00,1784.00) scale(0.9567,1)" font-size="32.50" text-anchor="start" font-family="'Liberation Serif', serif" font-style="italic" fill="#231f20">van sub a t/m d</text>
<circle cx="119.3" cy="1941.8" r="104.7" fill="#000" fill-opacity=".16" filter="url(#sh19)"/>
<path d="M119.30,1939.30 L119.30,1835.10 A104.20,104.20 0 0 1 222.76,1926.89 Z" fill="#454749"/>
<path d="M119.30,1939.30 L222.76,1926.89 A104.20,104.20 0 0 1 200.83,2004.19 Z" fill="#c3c4c6"/>
<path d="M119.30,1939.30 L200.83,2004.19 A104.20,104.20 0 0 1 18.06,1914.66 Z" fill="#020202"/>
<path d="M119.30,1939.30 L18.06,1914.66 A104.20,104.20 0 0 1 119.30,1835.10 Z" fill="#ffffff"/>
<circle cx="119.3" cy="1939.3" r="104.2" fill="url(#rim19)"/>
<clipPath id="clip19"><circle cx="119.3" cy="1939.3" r="104.2"/></clipPath><g clip-path="url(#clip19)"><g filter="url(#blur19)">
<path d="M121.92,1839.13 A100.20,100.20 0 0 1 218.44,1924.77" fill="none" stroke="#77787b" stroke-width="4.60" stroke-opacity="0.60"/>
<path d="M122.00,1836.14 A103.20,103.20 0 0 1 221.41,1924.33" fill="none" stroke="#2b2b2d" stroke-width="1.60" stroke-opacity="0.80"/>
<line x1="120.30" y1="1936.30" x2="120.30" y2="1836.60" stroke="#252527" stroke-width="2.00" stroke-opacity="1.00"/>
<line x1="122.50" y1="1936.30" x2="122.50" y2="1836.60" stroke="#5a5c5e" stroke-width="1.60" stroke-opacity="0.60"/>
<line x1="121.92" y1="1935.96" x2="220.91" y2="1924.09" stroke="#6d6e70" stroke-width="2.40" stroke-opacity="0.80"/>
<line x1="122.14" y1="1937.75" x2="221.13" y2="1925.88" stroke="#2f2f31" stroke-width="1.40" stroke-opacity="0.90"/>
<line x1="123.46" y1="1940.41" x2="221.46" y2="1928.66" stroke="#ffffff" stroke-width="3.60" stroke-opacity="0.95"/>
<path d="M220.74,1930.71 A101.80,101.80 0 0 1 200.58,2000.59" fill="none" stroke="#808285" stroke-width="3.60" stroke-opacity="0.70"/>
<path d="M217.55,1930.98 A98.60,98.60 0 0 1 198.02,1998.67" fill="none" stroke="#d7d8da" stroke-width="2.00" stroke-opacity="0.70"/>
<line x1="125.12" y1="1941.63" x2="200.77" y2="2001.85" stroke="#e1e2e3" stroke-width="2.00" stroke-opacity="0.70"/>
<line x1="121.65" y1="1941.17" x2="199.65" y2="2003.26" stroke="#4a4a4c" stroke-width="1.40" stroke-opacity="0.90"/>
<line x1="116.53" y1="1938.01" x2="19.66" y2="1914.43" stroke="#58595b" stroke-width="1.40" stroke-opacity="0.90"/>
<line x1="117.00" y1="1936.06" x2="20.13" y2="1912.49" stroke="#d0d1d3" stroke-width="2.40" stroke-opacity="0.90"/>
<line x1="117.70" y1="1936.30" x2="117.70" y2="1836.60" stroke="#cfd0d2" stroke-width="2.40" stroke-opacity="0.90"/>
<path d="M21.02,1913.55 A101.60,101.60 0 0 1 117.53,1837.72" fill="none" stroke="#c8c9cb" stroke-width="3.40" stroke-opacity="0.70"/>
</g></g>
<text transform="translate(170.00,1888.50)" font-size="17.00" text-anchor="middle" font-family="'Liberation Sans', sans-serif" fill="#0c0c0c" stroke="#0c0c0c" stroke-width="0.3">23%</text>
<text transform="translate(194.50,1962.00) scale(0.9800,1)" font-size="16.50" text-anchor="middle" font-family="'Liberation Sans', sans-serif" fill="#231f20">13%</text>
<text transform="translate(92.50,1999.50) scale(0.9500,1)" font-size="16.50" text-anchor="middle" font-family="'Liberation Sans', sans-serif" font-weight="bold" fill="#fff">43%</text>
<text transform="translate(75.50,1877.50) scale(0.9500,1)" font-size="16.50" text-anchor="middle" font-family="'Liberation Sans', sans-serif" font-weight="bold" fill="#111">21%</text>
<rect x="276.00" y="1869.50" width="9.00" height="9.00" fill="#454749" stroke="#000" stroke-opacity=".35" stroke-width=".8"/>
<polygon points="276,1869.5 285,1869.5 280.5,1873.5" fill="#8a8c8e"/>
<text transform="translate(289.50,1879.80) scale(0.9963,1)" font-size="16.30" text-anchor="start" font-family="'Liberation Sans', sans-serif" fill="#231f20" stroke="#231f20" stroke-width="0.3">Alle factoren genoemd en gemotiveerd 23,1%</text>
<rect x="276.00" y="1918.00" width="9.00" height="9.00" fill="#a7a9ac" stroke="#000" stroke-opacity=".35" stroke-width=".8"/>
<polygon points="276,1918.0 285,1918.0 280.5,1922.0" fill="#e1e2e3"/>
<text transform="translate(289.50,1928.30)" font-size="16.30" text-anchor="start" font-family="'Liberation Sans', sans-serif" fill="#231f20" stroke="#231f20" stroke-width="0.3">Alle factoren genoemd, niet allemaal gemotiveerd 12,6%</text>
<rect x="276.00" y="1967.00" width="9.00" height="9.00" fill="#000" stroke="#000" stroke-opacity=".35" stroke-width=".8"/>
<polygon points="276,1967.0 285,1967.0 280.5,1971.0" fill="#555"/>
<text transform="translate(289.50,1977.30) scale(0.9828,1)" font-size="16.30" text-anchor="start" font-family="'Liberation Sans', sans-serif" fill="#231f20" stroke="#231f20" stroke-width="0.3">Geen enkele factor genoemd 43,1%</text>
<rect x="276.00" y="2015.00" width="9.00" height="9.00" fill="#d1d3d4" stroke="#000" stroke-opacity=".35" stroke-width=".8"/>
<polygon points="276,2015.0 285,2015.0 280.5,2019.0" fill="#fff"/>
<text transform="translate(289.50,2025.30) scale(1.0049,1)" font-size="16.30" text-anchor="start" font-family="'Liberation Sans', sans-serif" fill="#231f20" stroke="#231f20" stroke-width="0.3">Niet alle factoren genoemd, niet allemaal gemotiveerd 21,2%</text>
<g transform="translate(13.50,2086.00) scale(0.9265,1)" font-family="'Liberation Serif', serif" font-style="italic" fill="#231f20"><text transform="translate(0.00,0.00)" font-size="32.50">Figuur </text><text transform="translate(98.40,0.00) scale(1.280,1)" font-size="23.07" stroke="#231f20" stroke-width="0.39">1</text><text transform="translate(113.17,6.17)" font-size="32.50">9</text><text transform="translate(129.42,0.00)" font-size="32.50">: Factoren van overeenstemming in samenhang</text></g>
<text transform="translate(13.00,2121.00) scale(0.9455,1)" font-size="32.50" text-anchor="start" font-family="'Liberation Serif', serif" font-style="italic" fill="#231f20">bezien</text>
<line x1="789.50" y1="2054.70" x2="1464.50" y2="2054.70" stroke="#999b9e" stroke-width="1.00"/>
<text transform="translate(778.00,2061.00) scale(0.8800,1)" font-size="16.50" text-anchor="end" font-family="'Liberation Sans', sans-serif" fill="#2a2a2c">0</text>
<line x1="789.50" y1="2012.50" x2="1464.50" y2="2012.50" stroke="#999b9e" stroke-width="1.00"/>
<text transform="translate(778.00,2018.80) scale(0.8800,1)" font-size="16.50" text-anchor="end" font-family="'Liberation Sans', sans-serif" fill="#2a2a2c">50</text>
<line x1="789.50" y1="1968.70" x2="1464.50" y2="1968.70" stroke="#999b9e" stroke-width="1.00"/>
<text transform="translate(778.00,1975.00) scale(0.8800,1)" font-size="16.50" text-anchor="end" font-family="'Liberation Sans', sans-serif" fill="#2a2a2c">100</text>
<line x1="789.50" y1="1925.30" x2="1464.50" y2="1925.30" stroke="#999b9e" stroke-width="1.00"/>
<text transform="translate(778.00,1931.60) scale(0.8800,1)" font-size="16.50" text-anchor="end" font-family="'Liberation Sans', sans-serif" fill="#2a2a2c">150</text>
<line x1="789.50" y1="1881.30" x2="1464.50" y2="1881.30" stroke="#999b9e" stroke-width="1.00"/>
<text transform="translate(778.00,1887.60) scale(0.8800,1)" font-size="16.50" text-anchor="end" font-family="'Liberation Sans', sans-serif" fill="#2a2a2c">200</text>
<line x1="789.50" y1="1837.30" x2="1464.50" y2="1837.30" stroke="#999b9e" stroke-width="1.00"/>
<text transform="translate(778.00,1843.60) scale(0.8800,1)" font-size="16.50" text-anchor="end" font-family="'Liberation Sans', sans-serif" fill="#2a2a2c">250</text>
<line x1="794.50" y1="1824.00" x2="794.50" y2="2061.00" stroke="#999b9e" stroke-width="1.00"/>
<line x1="794.50" y1="2055.00" x2="794.50" y2="2061.00" stroke="#999b9e" stroke-width="1.00"/>
<line x1="962.00" y1="2055.00" x2="962.00" y2="2061.00" stroke="#999b9e" stroke-width="1.00"/>
<line x1="1129.50" y1="2055.00" x2="1129.50" y2="2061.00" stroke="#999b9e" stroke-width="1.00"/>
<line x1="1297.00" y1="2055.00" x2="1297.00" y2="2061.00" stroke="#999b9e" stroke-width="1.00"/>
<line x1="1464.50" y1="2055.00" x2="1464.50" y2="2061.00" stroke="#999b9e" stroke-width="1.00"/>
<rect x="844.55" y="1993.23" width="68.00" height="61.27" fill="url(#vgA)"/>
<rect x="844.55" y="1993.23" width="68.00" height="61.27" fill="url(#hgA)"/>
<polygon points="844.55,1993.23 912.55,1993.23 906.55,1999.23 850.55,1999.23" fill="url(#tbA)"/>
<polygon points="844.55,2054.50 912.55,2054.50 906.55,2048.50 850.55,2048.50" fill="#1c1a1b" fill-opacity="0.55"/>
<text transform="translate(878.55,1980.23) scale(0.9200,1)" font-size="16.50" text-anchor="middle" font-family="'Liberation Sans', sans-serif" fill="#231f20">71</text>
<text transform="translate(877.55,2088.00) scale(0.8300,1)" font-size="17.00" text-anchor="middle" font-family="'Liberation Sans', sans-serif" fill="#231f20">Sub a</text>
<rect x="1012.05" y="1893.18" width="68.00" height="161.32" fill="url(#vgA)"/>
<rect x="1012.05" y="1893.18" width="68.00" height="161.32" fill="url(#hgA)"/>
<polygon points="1012.05,1893.18 1080.05,1893.18 1074.05,1899.18 1018.05,1899.18" fill="url(#tbA)"/>
<polygon points="1012.05,2054.50 1080.05,2054.50 1074.05,2048.50 1018.05,2048.50" fill="#1c1a1b" fill-opacity="0.55"/>
<text transform="translate(1046.05,1880.18) scale(0.9200,1)" font-size="16.50" text-anchor="middle" font-family="'Liberation Sans', sans-serif" fill="#231f20">186</text>
<text transform="translate(1045.05,2088.00) scale(0.8300,1)" font-size="17.00" text-anchor="middle" font-family="'Liberation Sans', sans-serif" fill="#231f20">Sub b</text>
<rect x="1179.55" y="1993.23" width="68.00" height="61.27" fill="url(#vgA)"/>
<rect x="1179.55" y="1993.23" width="68.00" height="61.27" fill="url(#hgA)"/>
<polygon points="1179.55,1993.23 1247.55,1993.23 1241.55,1999.23 1185.55,1999.23" fill="url(#tbA)"/>
<polygon points="1179.55,2054.50 1247.55,2054.50 1241.55,2048.50 1185.55,2048.50" fill="#1c1a1b" fill-opacity="0.55"/>
<text transform="translate(1213.55,1980.23) scale(0.9200,1)" font-size="16.50" text-anchor="middle" font-family="'Liberation Sans', sans-serif" fill="#231f20">71</text>
<text transform="translate(1212.55,2088.00) scale(0.8300,1)" font-size="17.00" text-anchor="middle" font-family="'Liberation Sans', sans-serif" fill="#231f20">Sub c</text>
<rect x="1347.05" y="2001.06" width="68.00" height="53.44" fill="url(#vgA)"/>
<rect x="1347.05" y="2001.06" width="68.00" height="53.44" fill="url(#hgA)"/>
<polygon points="1347.05,2001.06 1415.05,2001.06 1409.05,2007.06 1353.05,2007.06" fill="url(#tbA)"/>
<polygon points="1347.05,2054.50 1415.05,2054.50 1409.05,2048.50 1353.05,2048.50" fill="#1c1a1b" fill-opacity="0.55"/>
<text transform="translate(1381.05,1988.06) scale(0.9200,1)" font-size="16.50" text-anchor="middle" font-family="'Liberation Sans', sans-serif" fill="#231f20">62</text>
<text transform="translate(1380.05,2088.00) scale(0.8300,1)" font-size="17.00" text-anchor="middle" font-family="'Liberation Sans', sans-serif" fill="#231f20">Sub d</text>
<g transform="translate(753.00,2131.00) scale(0.9179,1)" font-family="'Liberation Serif', serif" font-style="italic" fill="#231f20"><text transform="translate(0.00,0.00)" font-size="32.50">Figuur </text><text transform="translate(98.40,0.00) scale(1.280,1)" font-size="23.07" stroke="#231f20" stroke-width="0.39">1</text><text transform="translate(113.17,6.17)" font-size="32.50">4</text><text transform="translate(129.42,0.00)" font-size="32.50">: Aantal keer dat een ‘sub’ aan bod komt in de</text></g>
<text transform="translate(753.00,2167.50) scale(0.9131,1)" font-size="32.50" text-anchor="start" font-family="'Liberation Serif', serif" font-style="italic" fill="#231f20">beoordeling van de rechter</text>
</svg></body></html>
